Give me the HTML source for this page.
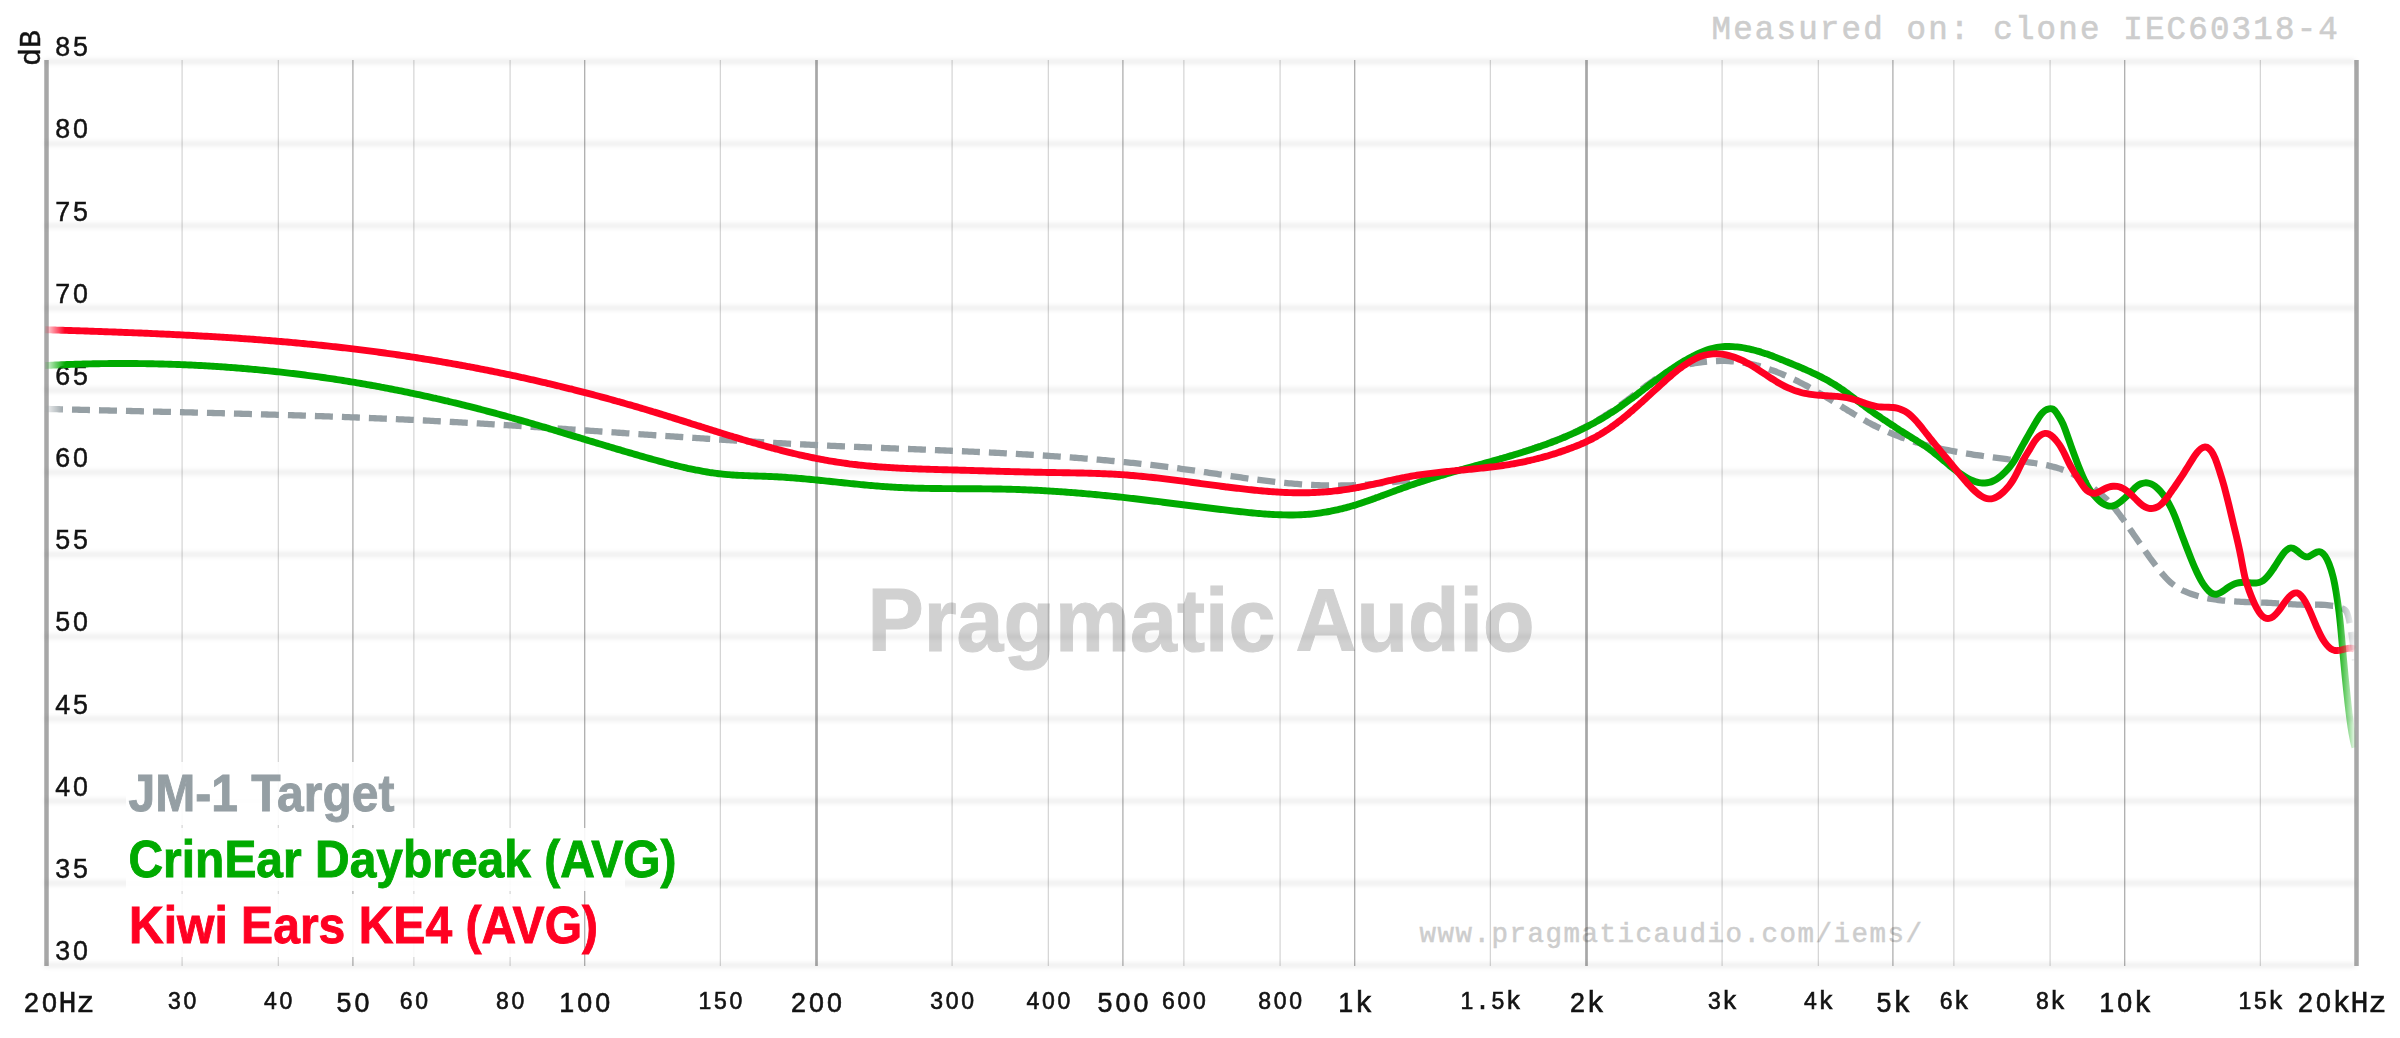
<!DOCTYPE html><html><head><meta charset="utf-8"><title>graph</title><style>html,body{margin:0;padding:0;background:#fff}svg{display:block}text{font-family:"Liberation Mono",monospace}.d{font-family:"Liberation Sans",sans-serif}.s,.s text{font-family:"Liberation Sans",sans-serif;font-weight:bold}</style></head><body>
<svg width="2400" height="1038" viewBox="0 0 2400 1038">
<defs>
<filter id="blur" filterUnits="userSpaceOnUse" x="-12" y="-6" width="2334" height="12"><feGaussianBlur in="SourceGraphic" stdDeviation="2.4"/></filter>
<linearGradient id="fg" gradientUnits="userSpaceOnUse" x1="0" y1="0" x2="2400" y2="0"><stop offset="0.01875" stop-color="#fff" stop-opacity="0.08"/><stop offset="0.02708" stop-color="#fff" stop-opacity="1"/><stop offset="0.97375" stop-color="#fff" stop-opacity="1"/><stop offset="0.98188" stop-color="#fff" stop-opacity="0"/></linearGradient>
<mask id="fade" maskUnits="userSpaceOnUse" x="0" y="0" width="2400" height="1038"><rect x="40" y="40" width="2320" height="960" fill="url(#fg)"/></mask>
</defs>
<rect width="2400" height="1038" fill="#fff"/>
<text class="s" x="1201" y="651" font-size="88.5" text-anchor="middle" fill="#d1d1d1" stroke="#d1d1d1" stroke-width="1" textLength="667" lengthAdjust="spacingAndGlyphs">Pragmatic Audio</text>
<text x="1671.5" y="942" font-size="27.5" letter-spacing="1.5" text-anchor="middle" fill="#cdcdcd" stroke="#cdcdcd" stroke-width="0.5">www.pragmaticaudio.com/iems/</text>
<text x="2340" y="39" font-size="32.5" letter-spacing="2.17" text-anchor="end" fill="#cdcdcd" stroke="#cdcdcd" stroke-width="0.6">Measured on: clone IEC60318-4</text>
<g stroke="#000" stroke-opacity="0.4" stroke-width="0.81" stroke-linecap="round">
<g transform="translate(45,965.28)"><line x1="0" x2="2310" y1="0" y2="0" filter="url(#blur)"/></g>
<g transform="translate(45,883.12)"><line x1="0" x2="2310" y1="0" y2="0" filter="url(#blur)"/></g>
<g transform="translate(45,800.96)"><line x1="0" x2="2310" y1="0" y2="0" filter="url(#blur)"/></g>
<g transform="translate(45,718.80)"><line x1="0" x2="2310" y1="0" y2="0" filter="url(#blur)"/></g>
<g transform="translate(45,636.64)"><line x1="0" x2="2310" y1="0" y2="0" filter="url(#blur)"/></g>
<g transform="translate(45,554.47)"><line x1="0" x2="2310" y1="0" y2="0" filter="url(#blur)"/></g>
<g transform="translate(45,472.31)"><line x1="0" x2="2310" y1="0" y2="0" filter="url(#blur)"/></g>
<g transform="translate(45,390.15)"><line x1="0" x2="2310" y1="0" y2="0" filter="url(#blur)"/></g>
<g transform="translate(45,307.99)"><line x1="0" x2="2310" y1="0" y2="0" filter="url(#blur)"/></g>
<g transform="translate(45,225.82)"><line x1="0" x2="2310" y1="0" y2="0" filter="url(#blur)"/></g>
<g transform="translate(45,143.66)"><line x1="0" x2="2310" y1="0" y2="0" filter="url(#blur)"/></g>
<g transform="translate(45,61.50)"><line x1="0" x2="2310" y1="0" y2="0" filter="url(#blur)"/></g>
</g>
<g font-size="30" fill="#111" stroke="#111" stroke-width="0.45" opacity="0.99">
<text y="960.0" text-anchor="middle"><tspan class="d" font-size="26.8" x="62.8">3</tspan><tspan class="d" font-size="26.8" x="80.4">0</tspan></text>
<text y="877.8" text-anchor="middle"><tspan class="d" font-size="26.8" x="62.8">3</tspan><tspan class="d" font-size="26.8" x="80.4">5</tspan></text>
<text y="795.7" text-anchor="middle"><tspan class="d" font-size="26.8" x="62.8">4</tspan><tspan class="d" font-size="26.8" x="80.4">0</tspan></text>
<text y="713.5" text-anchor="middle"><tspan class="d" font-size="26.8" x="62.8">4</tspan><tspan class="d" font-size="26.8" x="80.4">5</tspan></text>
<text y="631.3" text-anchor="middle"><tspan class="d" font-size="26.8" x="62.8">5</tspan><tspan class="d" font-size="26.8" x="80.4">0</tspan></text>
<text y="549.2" text-anchor="middle"><tspan class="d" font-size="26.8" x="62.8">5</tspan><tspan class="d" font-size="26.8" x="80.4">5</tspan></text>
<text y="467.0" text-anchor="middle"><tspan class="d" font-size="26.8" x="62.8">6</tspan><tspan class="d" font-size="26.8" x="80.4">0</tspan></text>
<text y="384.8" text-anchor="middle"><tspan class="d" font-size="26.8" x="62.8">6</tspan><tspan class="d" font-size="26.8" x="80.4">5</tspan></text>
<text y="302.7" text-anchor="middle"><tspan class="d" font-size="26.8" x="62.8">7</tspan><tspan class="d" font-size="26.8" x="80.4">0</tspan></text>
<text y="220.5" text-anchor="middle"><tspan class="d" font-size="26.8" x="62.8">7</tspan><tspan class="d" font-size="26.8" x="80.4">5</tspan></text>
<text y="138.4" text-anchor="middle"><tspan class="d" font-size="26.8" x="62.8">8</tspan><tspan class="d" font-size="26.8" x="80.4">0</tspan></text>
<text y="56.2" text-anchor="middle"><tspan class="d" font-size="26.8" x="62.8">8</tspan><tspan class="d" font-size="26.8" x="80.4">5</tspan></text>
<text transform="translate(40,30) rotate(-90)" text-anchor="end">dB</text>
</g>
<g stroke="#333" stroke-opacity="0.43">
<line x1="46.50" x2="46.50" y1="60" y2="966" stroke-width="4.5"/>
<line x1="182.09" x2="182.09" y1="60" y2="966" stroke-width="0.6"/>
<line x1="278.29" x2="278.29" y1="60" y2="966" stroke-width="0.6"/>
<line x1="352.91" x2="352.91" y1="60" y2="966" stroke-width="1.2"/>
<line x1="413.88" x2="413.88" y1="60" y2="966" stroke-width="0.6"/>
<line x1="510.09" x2="510.09" y1="60" y2="966" stroke-width="0.6"/>
<line x1="584.71" x2="584.71" y1="60" y2="966" stroke-width="1.2"/>
<line x1="720.30" x2="720.30" y1="60" y2="966" stroke-width="0.6"/>
<line x1="816.50" x2="816.50" y1="60" y2="966" stroke-width="2.7"/>
<line x1="952.09" x2="952.09" y1="60" y2="966" stroke-width="0.6"/>
<line x1="1048.29" x2="1048.29" y1="60" y2="966" stroke-width="0.6"/>
<line x1="1122.91" x2="1122.91" y1="60" y2="966" stroke-width="1.2"/>
<line x1="1183.88" x2="1183.88" y1="60" y2="966" stroke-width="0.6"/>
<line x1="1280.09" x2="1280.09" y1="60" y2="966" stroke-width="0.6"/>
<line x1="1354.71" x2="1354.71" y1="60" y2="966" stroke-width="1.2"/>
<line x1="1490.30" x2="1490.30" y1="60" y2="966" stroke-width="0.6"/>
<line x1="1586.50" x2="1586.50" y1="60" y2="966" stroke-width="2.7"/>
<line x1="1722.09" x2="1722.09" y1="60" y2="966" stroke-width="0.6"/>
<line x1="1818.29" x2="1818.29" y1="60" y2="966" stroke-width="0.6"/>
<line x1="1892.91" x2="1892.91" y1="60" y2="966" stroke-width="1.2"/>
<line x1="1953.88" x2="1953.88" y1="60" y2="966" stroke-width="0.6"/>
<line x1="2050.09" x2="2050.09" y1="60" y2="966" stroke-width="0.6"/>
<line x1="2124.71" x2="2124.71" y1="60" y2="966" stroke-width="1.2"/>
<line x1="2260.30" x2="2260.30" y1="60" y2="966" stroke-width="0.6"/>
<line x1="2356.50" x2="2356.50" y1="60" y2="966" stroke-width="4.5"/>
</g>
<g fill="#111" stroke="#111" stroke-width="0.6" text-anchor="middle" opacity="0.99">
<text y="1011.7" text-anchor="middle"><tspan class="d" font-size="26.8" x="31.5">2</tspan><tspan class="d" font-size="26.8" x="49.5">0</tspan><tspan font-size="30.0" x="67.5">H</tspan><tspan font-size="30.0" x="85.5">z</tspan></text>
<text y="1008.7" text-anchor="middle"><tspan class="d" font-size="23.0" x="174.3">3</tspan><tspan class="d" font-size="23.0" x="189.8">0</tspan></text>
<text y="1008.7" text-anchor="middle"><tspan class="d" font-size="23.0" x="270.5">4</tspan><tspan class="d" font-size="23.0" x="286.0">0</tspan></text>
<text y="1011.7" text-anchor="middle"><tspan class="d" font-size="26.8" x="343.9">5</tspan><tspan class="d" font-size="26.8" x="361.9">0</tspan></text>
<text y="1008.7" text-anchor="middle"><tspan class="d" font-size="23.0" x="406.1">6</tspan><tspan class="d" font-size="23.0" x="421.6">0</tspan></text>
<text y="1008.7" text-anchor="middle"><tspan class="d" font-size="23.0" x="502.3">8</tspan><tspan class="d" font-size="23.0" x="517.8">0</tspan></text>
<text y="1011.7" text-anchor="middle"><tspan class="d" font-size="26.8" x="566.7">1</tspan><tspan class="d" font-size="26.8" x="584.7">0</tspan><tspan class="d" font-size="26.8" x="602.7">0</tspan></text>
<text y="1008.7" text-anchor="middle"><tspan class="d" font-size="23.0" x="704.8">1</tspan><tspan class="d" font-size="23.0" x="720.3">5</tspan><tspan class="d" font-size="23.0" x="735.8">0</tspan></text>
<text y="1011.7" text-anchor="middle"><tspan class="d" font-size="26.8" x="798.5">2</tspan><tspan class="d" font-size="26.8" x="816.5">0</tspan><tspan class="d" font-size="26.8" x="834.5">0</tspan></text>
<text y="1008.7" text-anchor="middle"><tspan class="d" font-size="23.0" x="936.6">3</tspan><tspan class="d" font-size="23.0" x="952.1">0</tspan><tspan class="d" font-size="23.0" x="967.6">0</tspan></text>
<text y="1008.7" text-anchor="middle"><tspan class="d" font-size="23.0" x="1032.8">4</tspan><tspan class="d" font-size="23.0" x="1048.3">0</tspan><tspan class="d" font-size="23.0" x="1063.8">0</tspan></text>
<text y="1011.7" text-anchor="middle"><tspan class="d" font-size="26.8" x="1104.9">5</tspan><tspan class="d" font-size="26.8" x="1122.9">0</tspan><tspan class="d" font-size="26.8" x="1140.9">0</tspan></text>
<text y="1008.7" text-anchor="middle"><tspan class="d" font-size="23.0" x="1168.4">6</tspan><tspan class="d" font-size="23.0" x="1183.9">0</tspan><tspan class="d" font-size="23.0" x="1199.4">0</tspan></text>
<text y="1008.7" text-anchor="middle"><tspan class="d" font-size="23.0" x="1264.6">8</tspan><tspan class="d" font-size="23.0" x="1280.1">0</tspan><tspan class="d" font-size="23.0" x="1295.6">0</tspan></text>
<text y="1011.7" text-anchor="middle"><tspan class="d" font-size="26.8" x="1345.7">1</tspan><tspan font-size="30.0" x="1363.7">k</tspan></text>
<text y="1008.7" text-anchor="middle"><tspan class="d" font-size="23.0" x="1467.0">1</tspan><tspan font-size="25.8" x="1482.5">.</tspan><tspan class="d" font-size="23.0" x="1498.0">5</tspan><tspan font-size="25.8" x="1513.5">k</tspan></text>
<text y="1011.7" text-anchor="middle"><tspan class="d" font-size="26.8" x="1577.5">2</tspan><tspan font-size="30.0" x="1595.5">k</tspan></text>
<text y="1008.7" text-anchor="middle"><tspan class="d" font-size="23.0" x="1714.3">3</tspan><tspan font-size="25.8" x="1729.8">k</tspan></text>
<text y="1008.7" text-anchor="middle"><tspan class="d" font-size="23.0" x="1810.5">4</tspan><tspan font-size="25.8" x="1826.0">k</tspan></text>
<text y="1011.7" text-anchor="middle"><tspan class="d" font-size="26.8" x="1883.9">5</tspan><tspan font-size="30.0" x="1901.9">k</tspan></text>
<text y="1008.7" text-anchor="middle"><tspan class="d" font-size="23.0" x="1946.1">6</tspan><tspan font-size="25.8" x="1961.6">k</tspan></text>
<text y="1008.7" text-anchor="middle"><tspan class="d" font-size="23.0" x="2042.3">8</tspan><tspan font-size="25.8" x="2057.8">k</tspan></text>
<text y="1011.7" text-anchor="middle"><tspan class="d" font-size="26.8" x="2106.7">1</tspan><tspan class="d" font-size="26.8" x="2124.7">0</tspan><tspan font-size="30.0" x="2142.7">k</tspan></text>
<text y="1008.7" text-anchor="middle"><tspan class="d" font-size="23.0" x="2244.8">1</tspan><tspan class="d" font-size="23.0" x="2260.3">5</tspan><tspan font-size="25.8" x="2275.8">k</tspan></text>
<text y="1011.7" text-anchor="middle"><tspan class="d" font-size="26.8" x="2305.5">2</tspan><tspan class="d" font-size="26.8" x="2323.5">0</tspan><tspan font-size="30.0" x="2341.5">k</tspan><tspan font-size="30.0" x="2359.5">H</tspan><tspan font-size="30.0" x="2377.5">z</tspan></text>
</g>
<g fill="none" stroke-width="6.9" stroke-linejoin="round">
<path d="M45.0,408.9C46.3,408.94 47.7,408.98 49.0,409.01C50.3,409.05 51.7,409.08 53.0,409.11C54.3,409.15 55.7,409.18 57.0,409.22C58.3,409.25 59.7,409.28 61.0,409.32C62.3,409.35 63.7,409.39 65.0,409.42C66.3,409.45 67.7,409.49 69.0,409.52C70.3,409.55 71.7,409.59 73.0,409.62C74.3,409.65 75.7,409.69 77.0,409.72C78.3,409.75 79.7,409.78 81.0,409.82C82.3,409.85 83.7,409.88 85.0,409.91C86.3,409.95 87.7,409.98 89.0,410.01C90.3,410.04 91.7,410.08 93.0,410.11C94.3,410.14 95.7,410.17 97.0,410.21C98.3,410.24 99.7,410.27 101.0,410.30C102.3,410.33 103.7,410.37 105.0,410.40C106.3,410.43 107.7,410.46 109.0,410.49C110.3,410.53 111.7,410.56 113.0,410.59C114.3,410.62 115.7,410.65 117.0,410.68C118.3,410.72 119.7,410.75 121.0,410.78C122.3,410.81 123.7,410.84 125.0,410.87C126.3,410.91 127.7,410.94 129.0,410.97C130.3,411.00 131.7,411.03 133.0,411.06C134.3,411.10 135.7,411.13 137.0,411.16C138.3,411.19 139.7,411.22 141.0,411.25C142.3,411.29 143.7,411.32 145.0,411.35C146.3,411.38 147.7,411.41 149.0,411.44C150.3,411.48 151.7,411.51 153.0,411.54C154.3,411.57 155.7,411.60 157.0,411.63C158.3,411.67 159.7,411.70 161.0,411.73C162.3,411.76 163.7,411.79 165.0,411.83C166.3,411.86 167.7,411.89 169.0,411.92C170.3,411.95 171.7,411.99 173.0,412.02C174.3,412.05 175.7,412.08 177.0,412.11C178.3,412.15 179.7,412.18 181.0,412.21C182.3,412.24 183.7,412.28 185.0,412.31C186.3,412.34 187.7,412.38 189.0,412.41C190.3,412.44 191.7,412.47 193.0,412.51C194.3,412.54 195.7,412.57 197.0,412.61C198.3,412.64 199.7,412.67 201.0,412.71C202.3,412.74 203.7,412.77 205.0,412.81C206.3,412.84 207.7,412.87 209.0,412.91C210.3,412.94 211.7,412.98 213.0,413.01C214.3,413.04 215.7,413.08 217.0,413.11C218.3,413.15 219.7,413.18 221.0,413.22C222.3,413.25 223.7,413.29 225.0,413.32C226.3,413.36 227.7,413.39 229.0,413.43C230.3,413.46 231.7,413.50 233.0,413.53C234.3,413.57 235.7,413.60 237.0,413.64C238.3,413.68 239.7,413.71 241.0,413.75C242.3,413.78 243.7,413.82 245.0,413.86C246.3,413.89 247.7,413.93 249.0,413.97C250.3,414.01 251.7,414.04 253.0,414.08C254.3,414.12 255.7,414.16 257.0,414.19C258.3,414.23 259.7,414.27 261.0,414.31C262.3,414.35 263.7,414.38 265.0,414.42C266.3,414.46 267.7,414.50 269.0,414.54C270.3,414.58 271.7,414.62 273.0,414.66C274.3,414.70 275.7,414.74 277.0,414.78C278.3,414.82 279.7,414.86 281.0,414.90C282.3,414.94 283.7,414.98 285.0,415.02C286.3,415.06 287.7,415.10 289.0,415.14C290.3,415.18 291.7,415.23 293.0,415.27C294.3,415.31 295.7,415.35 297.0,415.39C298.3,415.44 299.7,415.48 301.0,415.52C302.3,415.57 303.7,415.61 305.0,415.65C306.3,415.70 307.7,415.74 309.0,415.79C310.3,415.83 311.7,415.87 313.0,415.92C314.3,415.96 315.7,416.01 317.0,416.05C318.3,416.10 319.7,416.14 321.0,416.19C322.3,416.24 323.7,416.28 325.0,416.33C326.3,416.38 327.7,416.42 329.0,416.47C330.3,416.52 331.7,416.57 333.0,416.61C334.3,416.66 335.7,416.71 337.0,416.76C338.3,416.81 339.7,416.86 341.0,416.90C342.3,416.95 343.7,417.00 345.0,417.05C346.3,417.10 347.7,417.15 349.0,417.20C350.3,417.26 351.7,417.31 353.0,417.36C354.3,417.41 355.7,417.46 357.0,417.51C358.3,417.56 359.7,417.62 361.0,417.67C362.3,417.72 363.7,417.78 365.0,417.83C366.3,417.88 367.7,417.94 369.0,417.99C370.3,418.05 371.7,418.10 373.0,418.16C374.3,418.21 375.7,418.27 377.0,418.32C378.3,418.38 379.7,418.43 381.0,418.49C382.3,418.55 383.7,418.61 385.0,418.66C386.3,418.72 387.7,418.78 389.0,418.84C390.3,418.90 391.7,418.95 393.0,419.01C394.3,419.07 395.7,419.13 397.0,419.19C398.3,419.25 399.7,419.31 401.0,419.37C402.3,419.44 403.7,419.50 405.0,419.56C406.3,419.62 407.7,419.68 409.0,419.75C410.3,419.81 411.7,419.87 413.0,419.94C414.3,420.00 415.7,420.06 417.0,420.13C418.3,420.19 419.7,420.26 421.0,420.32C422.3,420.39 423.7,420.45 425.0,420.52C426.3,420.59 427.7,420.65 429.0,420.72C430.3,420.79 431.7,420.86 433.0,420.93C434.3,420.99 435.7,421.06 437.0,421.13C438.3,421.20 439.7,421.27 441.0,421.34C442.3,421.41 443.7,421.48 445.0,421.56C446.3,421.63 447.7,421.70 449.0,421.77C450.3,421.84 451.7,421.92 453.0,421.99C454.3,422.06 455.7,422.14 457.0,422.21C458.3,422.29 459.7,422.36 461.0,422.44C462.3,422.51 463.7,422.59 465.0,422.66C466.3,422.74 467.7,422.82 469.0,422.89C470.3,422.97 471.7,423.05 473.0,423.13C474.3,423.20 475.7,423.28 477.0,423.36C478.3,423.44 479.7,423.52 481.0,423.60C482.3,423.68 483.7,423.76 485.0,423.84C486.3,423.92 487.7,424.00 489.0,424.08C490.3,424.16 491.7,424.24 493.0,424.32C494.3,424.40 495.7,424.48 497.0,424.57C498.3,424.65 499.7,424.73 501.0,424.82C502.3,424.90 503.7,424.98 505.0,425.07C506.3,425.15 507.7,425.23 509.0,425.32C510.3,425.40 511.7,425.49 513.0,425.57C514.3,425.66 515.7,425.74 517.0,425.83C518.3,425.91 519.7,426.00 521.0,426.08C522.3,426.17 523.7,426.26 525.0,426.34C526.3,426.43 527.7,426.52 529.0,426.60C530.3,426.69 531.7,426.78 533.0,426.87C534.3,426.95 535.7,427.04 537.0,427.13C538.3,427.22 539.7,427.31 541.0,427.39C542.3,427.48 543.7,427.57 545.0,427.66C546.3,427.75 547.7,427.84 549.0,427.93C550.3,428.02 551.7,428.11 553.0,428.20C554.3,428.29 555.7,428.38 557.0,428.47C558.3,428.56 559.7,428.65 561.0,428.74C562.3,428.83 563.7,428.92 565.0,429.01C566.3,429.10 567.7,429.19 569.0,429.28C570.3,429.37 571.7,429.46 573.0,429.55C574.3,429.65 575.7,429.74 577.0,429.83C578.3,429.92 579.7,430.01 581.0,430.10C582.3,430.20 583.7,430.29 585.0,430.38C586.3,430.47 587.7,430.56 589.0,430.66C590.3,430.75 591.7,430.84 593.0,430.93C594.3,431.02 595.7,431.12 597.0,431.21C598.3,431.30 599.7,431.39 601.0,431.49C602.3,431.58 603.7,431.67 605.0,431.76C606.3,431.86 607.7,431.95 609.0,432.04C610.3,432.13 611.7,432.23 613.0,432.32C614.3,432.41 615.7,432.51 617.0,432.60C618.3,432.69 619.7,432.78 621.0,432.88C622.3,432.97 623.7,433.06 625.0,433.15C626.3,433.25 627.7,433.34 629.0,433.43C630.3,433.53 631.7,433.62 633.0,433.71C634.3,433.80 635.7,433.90 637.0,433.99C638.3,434.08 639.7,434.17 641.0,434.27C642.3,434.36 643.7,434.45 645.0,434.54C646.3,434.63 647.7,434.73 649.0,434.82C650.3,434.91 651.7,435.00 653.0,435.10C654.3,435.19 655.7,435.28 657.0,435.37C658.3,435.46 659.7,435.55 661.0,435.65C662.3,435.74 663.7,435.83 665.0,435.92C666.3,436.01 667.7,436.10 669.0,436.19C670.3,436.28 671.7,436.37 673.0,436.46C674.3,436.56 675.7,436.65 677.0,436.74C678.3,436.83 679.7,436.92 681.0,437.01C682.3,437.10 683.7,437.19 685.0,437.28C686.3,437.37 687.7,437.45 689.0,437.54C690.3,437.63 691.7,437.72 693.0,437.81C694.3,437.90 695.7,437.99 697.0,438.08C698.3,438.16 699.7,438.25 701.0,438.34C702.3,438.43 703.7,438.52 705.0,438.60C706.3,438.69 707.7,438.78 709.0,438.87C710.3,438.95 711.7,439.04 713.0,439.13C714.3,439.21 715.7,439.30 717.0,439.38C718.3,439.47 719.7,439.55 721.0,439.64C722.3,439.73 723.7,439.81 725.0,439.90C726.3,439.98 727.7,440.06 729.0,440.15C730.3,440.23 731.7,440.32 733.0,440.40C734.3,440.48 735.7,440.57 737.0,440.65C738.3,440.73 739.7,440.81 741.0,440.90C742.3,440.98 743.7,441.06 745.0,441.14C746.3,441.22 747.7,441.30 749.0,441.38C750.3,441.46 751.7,441.54 753.0,441.62C754.3,441.70 755.7,441.78 757.0,441.86C758.3,441.94 759.7,442.02 761.0,442.10C762.3,442.18 763.7,442.26 765.0,442.33C766.3,442.41 767.7,442.49 769.0,442.56C770.3,442.64 771.7,442.72 773.0,442.79C774.3,442.87 775.7,442.94 777.0,443.02C778.3,443.09 779.7,443.17 781.0,443.24C782.3,443.32 783.7,443.39 785.0,443.46C786.3,443.54 787.7,443.61 789.0,443.68C790.3,443.75 791.7,443.82 793.0,443.89C794.3,443.97 795.7,444.04 797.0,444.11C798.3,444.18 799.7,444.25 801.0,444.32C802.3,444.38 803.7,444.45 805.0,444.52C806.3,444.59 807.7,444.66 809.0,444.72C810.3,444.79 811.7,444.86 813.0,444.92C814.3,444.99 815.7,445.05 817.0,445.12C818.3,445.18 819.7,445.25 821.0,445.31C822.3,445.37 823.7,445.44 825.0,445.50C826.3,445.56 827.7,445.63 829.0,445.69C830.3,445.75 831.7,445.81 833.0,445.87C834.3,445.93 835.7,445.99 837.0,446.05C838.3,446.11 839.7,446.17 841.0,446.23C842.3,446.29 843.7,446.35 845.0,446.41C846.3,446.46 847.7,446.52 849.0,446.58C850.3,446.64 851.7,446.69 853.0,446.75C854.3,446.81 855.7,446.86 857.0,446.92C858.3,446.98 859.7,447.03 861.0,447.09C862.3,447.14 863.7,447.20 865.0,447.25C866.3,447.31 867.7,447.36 869.0,447.42C870.3,447.47 871.7,447.53 873.0,447.58C874.3,447.64 875.7,447.69 877.0,447.74C878.3,447.80 879.7,447.85 881.0,447.91C882.3,447.96 883.7,448.01 885.0,448.07C886.3,448.12 887.7,448.17 889.0,448.23C890.3,448.28 891.7,448.33 893.0,448.39C894.3,448.44 895.7,448.49 897.0,448.54C898.3,448.60 899.7,448.65 901.0,448.70C902.3,448.76 903.7,448.81 905.0,448.86C906.3,448.92 907.7,448.97 909.0,449.02C910.3,449.07 911.7,449.13 913.0,449.18C914.3,449.23 915.7,449.29 917.0,449.34C918.3,449.39 919.7,449.45 921.0,449.50C922.3,449.55 923.7,449.61 925.0,449.66C926.3,449.72 927.7,449.77 929.0,449.82C930.3,449.88 931.7,449.93 933.0,449.99C934.3,450.04 935.7,450.10 937.0,450.15C938.3,450.21 939.7,450.26 941.0,450.32C942.3,450.37 943.7,450.43 945.0,450.48C946.3,450.54 947.7,450.60 949.0,450.65C950.3,450.71 951.7,450.77 953.0,450.82C954.3,450.88 955.7,450.94 957.0,451.00C958.3,451.05 959.7,451.11 961.0,451.17C962.3,451.23 963.7,451.29 965.0,451.35C966.3,451.41 967.7,451.47 969.0,451.53C970.3,451.59 971.7,451.65 973.0,451.71C974.3,451.77 975.7,451.83 977.0,451.90C978.3,451.96 979.7,452.02 981.0,452.08C982.3,452.15 983.7,452.21 985.0,452.27C986.3,452.34 987.7,452.40 989.0,452.47C990.3,452.53 991.7,452.60 993.0,452.67C994.3,452.73 995.7,452.80 997.0,452.87C998.3,452.94 999.7,453.01 1001.0,453.07C1002.3,453.14 1003.7,453.21 1005.0,453.28C1006.3,453.35 1007.7,453.43 1009.0,453.50C1010.3,453.57 1011.7,453.64 1013.0,453.71C1014.3,453.79 1015.7,453.86 1017.0,453.94C1018.3,454.01 1019.7,454.09 1021.0,454.16C1022.3,454.24 1023.7,454.32 1025.0,454.39C1026.3,454.47 1027.7,454.55 1029.0,454.63C1030.3,454.71 1031.7,454.79 1033.0,454.87C1034.3,454.95 1035.7,455.03 1037.0,455.12C1038.3,455.20 1039.7,455.28 1041.0,455.37C1042.3,455.45 1043.7,455.54 1045.0,455.63C1046.3,455.71 1047.7,455.80 1049.0,455.89C1050.3,455.98 1051.7,456.07 1053.0,456.16C1054.3,456.25 1055.7,456.34 1057.0,456.43C1058.3,456.52 1059.7,456.62 1061.0,456.71C1062.3,456.81 1063.7,456.90 1065.0,457.00C1066.3,457.10 1067.7,457.19 1069.0,457.29C1070.3,457.39 1071.7,457.49 1073.0,457.59C1074.3,457.69 1075.7,457.80 1077.0,457.90C1078.3,458.00 1079.7,458.11 1081.0,458.21C1082.3,458.32 1083.7,458.43 1085.0,458.53C1086.3,458.64 1087.7,458.75 1089.0,458.86C1090.3,458.97 1091.7,459.08 1093.0,459.20C1094.3,459.31 1095.7,459.42 1097.0,459.54C1098.3,459.65 1099.7,459.77 1101.0,459.89C1102.3,460.01 1103.7,460.13 1105.0,460.25C1106.3,460.37 1107.7,460.49 1109.0,460.61C1110.3,460.74 1111.7,460.86 1113.0,460.99C1114.3,461.11 1115.7,461.24 1117.0,461.37C1118.3,461.50 1119.7,461.63 1121.0,461.76C1122.3,461.89 1123.7,462.03 1125.0,462.16C1126.3,462.30 1127.7,462.43 1129.0,462.57C1130.3,462.71 1131.7,462.85 1133.0,462.99C1134.3,463.13 1135.7,463.27 1137.0,463.42C1138.3,463.56 1139.7,463.71 1141.0,463.85C1142.3,464.00 1143.7,464.15 1145.0,464.30C1146.3,464.45 1147.7,464.60 1149.0,464.75C1150.3,464.91 1151.7,465.06 1153.0,465.22C1154.3,465.37 1155.7,465.53 1157.0,465.69C1158.3,465.85 1159.7,466.01 1161.0,466.18C1162.3,466.34 1163.7,466.51 1165.0,466.67C1166.3,466.84 1167.7,467.01 1169.0,467.18C1170.3,467.35 1171.7,467.52 1173.0,467.69C1174.3,467.87 1175.7,468.04 1177.0,468.22C1178.3,468.40 1179.7,468.58 1181.0,468.76C1182.3,468.94 1183.7,469.12 1185.0,469.31C1186.3,469.49 1187.7,469.68 1189.0,469.86C1190.3,470.05 1191.7,470.24 1193.0,470.43C1194.3,470.62 1195.7,470.82 1197.0,471.01C1198.3,471.20 1199.7,471.40 1201.0,471.59C1202.3,471.79 1203.7,471.98 1205.0,472.18C1206.3,472.38 1207.7,472.57 1209.0,472.77C1210.3,472.97 1211.7,473.17 1213.0,473.37C1214.3,473.56 1215.7,473.76 1217.0,473.96C1218.3,474.16 1219.7,474.36 1221.0,474.56C1222.3,474.75 1223.7,474.95 1225.0,475.15C1226.3,475.35 1227.7,475.54 1229.0,475.74C1230.3,475.94 1231.7,476.13 1233.0,476.33C1234.3,476.52 1235.7,476.71 1237.0,476.91C1238.3,477.10 1239.7,477.29 1241.0,477.48C1242.3,477.67 1243.7,477.86 1245.0,478.04C1246.3,478.23 1247.7,478.41 1249.0,478.60C1250.3,478.78 1251.7,478.96 1253.0,479.14C1254.3,479.32 1255.7,479.50 1257.0,479.67C1258.3,479.84 1259.7,480.02 1261.0,480.19C1262.3,480.36 1263.7,480.52 1265.0,480.69C1266.3,480.85 1267.7,481.01 1269.0,481.17C1270.3,481.33 1271.7,481.49 1273.0,481.64C1274.3,481.79 1275.7,481.94 1277.0,482.08C1278.3,482.23 1279.7,482.37 1281.0,482.51C1282.3,482.65 1283.7,482.78 1285.0,482.91C1286.3,483.04 1287.7,483.17 1289.0,483.29C1290.3,483.41 1291.7,483.53 1293.0,483.65C1294.3,483.76 1295.7,483.87 1297.0,483.97C1298.3,484.08 1299.7,484.18 1301.0,484.27C1302.3,484.37 1303.7,484.46 1305.0,484.55C1306.3,484.63 1307.7,484.71 1309.0,484.79C1310.3,484.86 1311.7,484.93 1313.0,485.00C1314.3,485.06 1315.7,485.12 1317.0,485.17C1318.3,485.22 1319.7,485.27 1321.0,485.31C1322.3,485.35 1323.7,485.39 1325.0,485.42C1326.3,485.45 1327.7,485.48 1329.0,485.49C1330.3,485.51 1331.7,485.53 1333.0,485.53C1334.3,485.54 1335.7,485.54 1337.0,485.54C1338.3,485.54 1339.7,485.53 1341.0,485.51C1342.3,485.50 1343.7,485.48 1345.0,485.45C1346.3,485.43 1347.7,485.40 1349.0,485.36C1350.3,485.32 1351.7,485.28 1353.0,485.23C1354.3,485.18 1355.7,485.13 1357.0,485.07C1358.3,485.01 1359.7,484.94 1361.0,484.87C1362.3,484.80 1363.7,484.73 1365.0,484.65C1366.3,484.56 1367.7,484.48 1369.0,484.39C1370.3,484.29 1371.7,484.19 1373.0,484.09C1374.3,483.99 1375.7,483.88 1377.0,483.76C1378.3,483.65 1379.7,483.53 1381.0,483.40C1382.3,483.28 1383.7,483.15 1385.0,483.01C1386.3,482.87 1387.7,482.73 1389.0,482.58C1390.3,482.43 1391.7,482.28 1393.0,482.12C1394.3,481.96 1395.7,481.80 1397.0,481.63C1398.3,481.46 1399.7,481.28 1401.0,481.10C1402.3,480.92 1403.7,480.74 1405.0,480.54C1406.3,480.35 1407.7,480.16 1409.0,479.95C1410.3,479.75 1411.7,479.54 1413.0,479.33C1414.3,479.12 1415.7,478.90 1417.0,478.68C1418.3,478.45 1419.7,478.22 1421.0,477.99C1422.3,477.76 1423.7,477.52 1425.0,477.27C1426.3,477.03 1427.7,476.78 1429.0,476.53C1430.3,476.27 1431.7,476.01 1433.0,475.75C1434.3,475.49 1435.7,475.22 1437.0,474.94C1438.3,474.67 1439.7,474.39 1441.0,474.11C1442.3,473.83 1443.7,473.54 1445.0,473.25C1446.3,472.96 1447.7,472.66 1449.0,472.36C1450.3,472.06 1451.7,471.75 1453.0,471.45C1454.3,471.14 1455.7,470.82 1457.0,470.50C1458.3,470.19 1459.7,469.86 1461.0,469.54C1462.3,469.21 1463.7,468.88 1465.0,468.55C1466.3,468.21 1467.7,467.87 1469.0,467.53C1470.3,467.19 1471.7,466.84 1473.0,466.49C1474.3,466.14 1475.7,465.79 1477.0,465.43C1478.3,465.07 1479.7,464.71 1481.0,464.34C1482.3,463.98 1483.7,463.61 1485.0,463.24C1486.3,462.86 1487.7,462.49 1489.0,462.11C1490.3,461.73 1491.7,461.34 1493.0,460.96C1494.3,460.57 1495.7,460.18 1497.0,459.79C1498.3,459.39 1499.7,459.00 1501.0,458.60C1502.3,458.20 1503.7,457.80 1505.0,457.39C1506.3,456.98 1507.7,456.57 1509.0,456.16C1510.3,455.75 1511.7,455.33 1513.0,454.92C1514.3,454.50 1515.7,454.08 1517.0,453.65C1518.3,453.23 1519.7,452.80 1521.0,452.37C1522.3,451.94 1523.7,451.51 1525.0,451.08C1526.3,450.64 1527.7,450.20 1529.0,449.76C1530.3,449.32 1531.7,448.88 1533.0,448.43C1534.3,447.98 1535.7,447.52 1537.0,447.06C1538.3,446.60 1539.7,446.14 1541.0,445.67C1542.3,445.20 1543.7,444.72 1545.0,444.24C1546.3,443.76 1547.7,443.27 1549.0,442.77C1550.3,442.28 1551.7,441.77 1553.0,441.26C1554.3,440.75 1555.7,440.23 1557.0,439.70C1558.3,439.18 1559.7,438.64 1561.0,438.09C1562.3,437.55 1563.7,436.99 1565.0,436.42C1566.3,435.86 1567.7,435.28 1569.0,434.70C1570.3,434.11 1571.7,433.51 1573.0,432.90C1574.3,432.29 1575.7,431.67 1577.0,431.04C1578.3,430.41 1579.7,429.76 1581.0,429.11C1582.3,428.45 1583.7,427.78 1585.0,427.09C1586.3,426.41 1587.7,425.71 1589.0,425.00C1590.3,424.28 1591.7,423.56 1593.0,422.81C1594.3,422.07 1595.7,421.31 1597.0,420.54C1598.3,419.77 1599.7,418.98 1601.0,418.17C1602.3,417.37 1603.7,416.55 1605.0,415.71C1606.3,414.87 1607.7,414.01 1609.0,413.14C1610.3,412.26 1611.7,411.37 1613.0,410.46C1614.3,409.55 1615.7,408.62 1617.0,407.67C1618.3,406.72 1619.7,405.75 1621.0,404.78C1622.3,403.80 1623.7,402.81 1625.0,401.81C1626.3,400.81 1627.7,399.80 1629.0,398.79C1630.3,397.77 1631.7,396.75 1633.0,395.74C1634.3,394.72 1635.7,393.70 1637.0,392.69C1638.3,391.68 1639.7,390.67 1641.0,389.66C1642.3,388.66 1643.7,387.67 1645.0,386.69C1646.3,385.71 1647.7,384.74 1649.0,383.79C1650.3,382.84 1651.7,381.91 1653.0,380.99C1654.3,380.08 1655.7,379.19 1657.0,378.32C1658.3,377.46 1659.7,376.62 1661.0,375.80C1662.3,374.99 1663.7,374.21 1665.0,373.46C1666.3,372.72 1667.7,372.00 1669.0,371.32C1670.3,370.65 1671.7,370.01 1673.0,369.42C1674.3,368.82 1675.7,368.27 1677.0,367.76C1678.3,367.25 1679.7,366.79 1681.0,366.38C1682.3,365.96 1683.7,365.59 1685.0,365.25C1686.3,364.91 1687.7,364.60 1689.0,364.33C1690.3,364.05 1691.7,363.80 1693.0,363.58C1694.3,363.35 1695.7,363.14 1697.0,362.95C1698.3,362.76 1699.7,362.58 1701.0,362.42C1702.3,362.25 1703.7,362.09 1705.0,361.94C1706.3,361.79 1707.7,361.66 1709.0,361.54C1710.3,361.42 1711.7,361.31 1713.0,361.22C1714.3,361.13 1715.7,361.05 1717.0,361.00C1718.3,360.94 1719.7,360.90 1721.0,360.88C1722.3,360.86 1723.7,360.87 1725.0,360.89C1726.3,360.92 1727.7,360.96 1729.0,361.03C1730.3,361.10 1731.7,361.19 1733.0,361.31C1734.3,361.42 1735.7,361.55 1737.0,361.71C1738.3,361.86 1739.7,362.04 1741.0,362.24C1742.3,362.43 1743.7,362.65 1745.0,362.89C1746.3,363.12 1747.7,363.38 1749.0,363.66C1750.3,363.93 1751.7,364.23 1753.0,364.54C1754.3,364.85 1755.7,365.18 1757.0,365.53C1758.3,365.88 1759.7,366.25 1761.0,366.64C1762.3,367.02 1763.7,367.43 1765.0,367.85C1766.3,368.27 1767.7,368.71 1769.0,369.16C1770.3,369.61 1771.7,370.08 1773.0,370.57C1774.3,371.06 1775.7,371.56 1777.0,372.08C1778.3,372.59 1779.7,373.13 1781.0,373.67C1782.3,374.22 1783.7,374.78 1785.0,375.36C1786.3,375.94 1787.7,376.53 1789.0,377.13C1790.3,377.74 1791.7,378.36 1793.0,378.99C1794.3,379.62 1795.7,380.26 1797.0,380.92C1798.3,381.58 1799.7,382.25 1801.0,382.93C1802.3,383.61 1803.7,384.31 1805.0,385.01C1806.3,385.72 1807.7,386.43 1809.0,387.16C1810.3,387.89 1811.7,388.63 1813.0,389.38C1814.3,390.13 1815.7,390.89 1817.0,391.65C1818.3,392.42 1819.7,393.20 1821.0,393.99C1822.3,394.78 1823.7,395.58 1825.0,396.38C1826.3,397.18 1827.7,397.99 1829.0,398.80C1830.3,399.62 1831.7,400.44 1833.0,401.26C1834.3,402.08 1835.7,402.91 1837.0,403.73C1838.3,404.56 1839.7,405.38 1841.0,406.21C1842.3,407.03 1843.7,407.86 1845.0,408.68C1846.3,409.50 1847.7,410.32 1849.0,411.13C1850.3,411.95 1851.7,412.76 1853.0,413.56C1854.3,414.36 1855.7,415.16 1857.0,415.95C1858.3,416.73 1859.7,417.51 1861.0,418.28C1862.3,419.05 1863.7,419.81 1865.0,420.56C1866.3,421.30 1867.7,422.04 1869.0,422.76C1870.3,423.48 1871.7,424.18 1873.0,424.87C1874.3,425.56 1875.7,426.24 1877.0,426.89C1878.3,427.55 1879.7,428.20 1881.0,428.83C1882.3,429.45 1883.7,430.07 1885.0,430.67C1886.3,431.27 1887.7,431.85 1889.0,432.42C1890.3,432.99 1891.7,433.55 1893.0,434.09C1894.3,434.64 1895.7,435.17 1897.0,435.68C1898.3,436.20 1899.7,436.71 1901.0,437.20C1902.3,437.69 1903.7,438.17 1905.0,438.64C1906.3,439.10 1907.7,439.56 1909.0,440.00C1910.3,440.45 1911.7,440.88 1913.0,441.30C1914.3,441.72 1915.7,442.13 1917.0,442.53C1918.3,442.93 1919.7,443.32 1921.0,443.70C1922.3,444.08 1923.7,444.45 1925.0,444.81C1926.3,445.17 1927.7,445.52 1929.0,445.87C1930.3,446.21 1931.7,446.54 1933.0,446.87C1934.3,447.19 1935.7,447.51 1937.0,447.81C1938.3,448.12 1939.7,448.42 1941.0,448.71C1942.3,449.01 1943.7,449.29 1945.0,449.57C1946.3,449.85 1947.7,450.12 1949.0,450.38C1950.3,450.64 1951.7,450.90 1953.0,451.15C1954.3,451.41 1955.7,451.65 1957.0,451.89C1958.3,452.13 1959.7,452.36 1961.0,452.59C1962.3,452.82 1963.7,453.05 1965.0,453.27C1966.3,453.49 1967.7,453.70 1969.0,453.91C1970.3,454.12 1971.7,454.33 1973.0,454.53C1974.3,454.74 1975.7,454.94 1977.0,455.13C1978.3,455.33 1979.7,455.52 1981.0,455.71C1982.3,455.90 1983.7,456.09 1985.0,456.28C1986.3,456.46 1987.7,456.65 1989.0,456.83C1990.3,457.01 1991.7,457.19 1993.0,457.37C1994.3,457.55 1995.7,457.73 1997.0,457.91C1998.3,458.09 1999.7,458.26 2001.0,458.44C2002.3,458.62 2003.7,458.79 2005.0,458.97C2006.3,459.15 2007.7,459.32 2009.0,459.50C2010.3,459.68 2011.7,459.86 2013.0,460.04C2014.3,460.22 2015.7,460.40 2017.0,460.58C2018.3,460.77 2019.7,460.95 2021.0,461.14C2022.3,461.33 2023.7,461.52 2025.0,461.71C2026.3,461.90 2027.7,462.10 2029.0,462.29C2030.3,462.49 2031.7,462.69 2033.0,462.90C2034.3,463.10 2035.7,463.31 2037.0,463.53C2038.3,463.75 2039.7,463.97 2041.0,464.21C2042.3,464.44 2043.7,464.69 2045.0,464.95C2046.3,465.22 2047.7,465.49 2049.0,465.79C2050.3,466.09 2051.7,466.41 2053.0,466.75C2054.3,467.09 2055.7,467.45 2057.0,467.84C2058.3,468.23 2059.7,468.64 2061.0,469.09C2062.3,469.54 2063.7,470.02 2065.0,470.53C2066.3,471.04 2067.7,471.59 2069.0,472.18C2070.3,472.76 2071.7,473.39 2073.0,474.06C2074.3,474.72 2075.7,475.43 2077.0,476.19C2078.3,476.94 2079.7,477.75 2081.0,478.60C2082.3,479.45 2083.7,480.35 2085.0,481.31C2086.3,482.27 2087.7,483.28 2089.0,484.35C2090.3,485.41 2091.7,486.53 2093.0,487.66C2094.3,488.79 2095.7,489.93 2097.0,491.06C2098.3,492.18 2099.7,493.27 2101.0,494.38C2102.3,495.50 2103.7,496.63 2105.0,497.83C2106.3,499.04 2107.7,500.33 2109.0,501.73C2110.3,503.14 2111.7,504.66 2113.0,506.26C2114.3,507.85 2115.7,509.53 2117.0,511.26C2118.3,512.99 2119.7,514.78 2121.0,516.59C2122.3,518.40 2123.7,520.24 2125.0,522.11C2126.3,523.97 2127.7,525.86 2129.0,527.76C2130.3,529.66 2131.7,531.58 2133.0,533.50C2134.3,535.42 2135.7,537.36 2137.0,539.29C2138.3,541.22 2139.7,543.15 2141.0,545.07C2142.3,546.99 2143.7,548.91 2145.0,550.81C2146.3,552.71 2147.7,554.59 2149.0,556.46C2150.3,558.32 2151.7,560.16 2153.0,561.96C2154.3,563.77 2155.7,565.54 2157.0,567.26C2158.3,568.97 2159.7,570.64 2161.0,572.24C2162.3,573.84 2163.7,575.37 2165.0,576.82C2166.3,578.27 2167.7,579.64 2169.0,580.91C2170.3,582.17 2171.7,583.34 2173.0,584.40C2174.3,585.46 2175.7,586.41 2177.0,587.26C2178.3,588.12 2179.7,588.88 2181.0,589.58C2182.3,590.28 2183.7,590.91 2185.0,591.49C2186.3,592.07 2187.7,592.61 2189.0,593.11C2190.3,593.61 2191.7,594.09 2193.0,594.53C2194.3,594.97 2195.7,595.38 2197.0,595.76C2198.3,596.15 2199.7,596.50 2201.0,596.84C2202.3,597.17 2203.7,597.47 2205.0,597.76C2206.3,598.04 2207.7,598.31 2209.0,598.55C2210.3,598.79 2211.7,599.02 2213.0,599.22C2214.3,599.43 2215.7,599.62 2217.0,599.80C2218.3,599.97 2219.7,600.13 2221.0,600.28C2222.3,600.43 2223.7,600.57 2225.0,600.70C2226.3,600.83 2227.7,600.94 2229.0,601.05C2230.3,601.16 2231.7,601.25 2233.0,601.34C2234.3,601.43 2235.7,601.52 2237.0,601.59C2238.3,601.67 2239.7,601.74 2241.0,601.80C2242.3,601.86 2243.7,601.92 2245.0,601.98C2246.3,602.03 2247.7,602.08 2249.0,602.13C2250.3,602.18 2251.7,602.23 2253.0,602.27C2254.3,602.32 2255.7,602.36 2257.0,602.41C2258.3,602.45 2259.7,602.50 2261.0,602.54C2262.3,602.59 2263.7,602.64 2265.0,602.69C2266.3,602.74 2267.7,602.80 2269.0,602.86C2270.3,602.92 2271.7,602.98 2273.0,603.05C2274.3,603.12 2275.7,603.20 2277.0,603.28C2278.3,603.36 2279.7,603.45 2281.0,603.54C2282.3,603.64 2283.7,603.73 2285.0,603.82C2286.3,603.92 2287.7,604.01 2289.0,604.10C2290.3,604.19 2291.7,604.27 2293.0,604.35C2294.3,604.43 2295.7,604.50 2297.0,604.57C2298.3,604.63 2299.7,604.68 2301.0,604.72C2302.3,604.76 2303.7,604.79 2305.0,604.80C2306.3,604.82 2307.7,604.81 2309.0,604.80C2310.3,604.79 2311.7,604.77 2313.0,604.75C2314.3,604.74 2315.7,604.72 2317.0,604.72C2318.3,604.71 2319.7,604.72 2321.0,604.75C2322.3,604.78 2323.7,604.83 2325.0,604.91C2326.3,604.99 2327.7,605.11 2329.0,605.26C2330.3,605.41 2331.7,605.61 2333.0,605.85C2333.5,605.94 2334.0,606.04 2334.5,606.15C2335.0,606.26 2335.5,606.37 2336.0,606.49C2336.5,606.61 2337.0,606.74 2337.5,606.88C2338.0,607.02 2338.5,607.17 2339.0,607.32C2339.5,607.48 2340.0,607.65 2340.5,607.82C2341.0,608.00 2341.5,608.18 2342.0,608.38C2342.5,608.57 2343.0,608.77 2343.5,608.99C2344.0,609.21 2344.5,609.47 2345.0,609.90C2345.5,610.34 2346.0,610.94 2346.5,611.86C2347.0,612.78 2347.5,614.01 2348.0,615.68C2348.5,617.35 2349.0,619.49 2349.5,621.99C2350.0,624.49 2350.5,627.35 2351.0,630.49C2351.5,633.62 2352.0,637.01 2352.5,640.61C2353.0,644.21 2353.5,648.04 2354.0,652.04C2354.3,654.71 2354.7,657.47 2355.0,660.29" stroke="#959fa4" stroke-width="6.3" stroke-dasharray="18 9" mask="url(#fade)"/>
<path d="M45.0,365.5C46.3,365.47 47.7,365.40 49.0,365.34C50.3,365.27 51.7,365.21 53.0,365.15C54.3,365.08 55.7,365.02 57.0,364.96C58.3,364.91 59.7,364.85 61.0,364.79C62.3,364.74 63.7,364.69 65.0,364.64C66.3,364.58 67.7,364.53 69.0,364.49C70.3,364.44 71.7,364.39 73.0,364.35C74.3,364.30 75.7,364.26 77.0,364.22C78.3,364.18 79.7,364.14 81.0,364.10C82.3,364.06 83.7,364.03 85.0,363.99C86.3,363.96 87.7,363.93 89.0,363.90C90.3,363.87 91.7,363.84 93.0,363.81C94.3,363.78 95.7,363.76 97.0,363.73C98.3,363.71 99.7,363.69 101.0,363.67C102.3,363.65 103.7,363.63 105.0,363.61C106.3,363.60 107.7,363.58 109.0,363.57C110.3,363.56 111.7,363.55 113.0,363.54C114.3,363.53 115.7,363.52 117.0,363.51C118.3,363.51 119.7,363.50 121.0,363.50C122.3,363.50 123.7,363.50 125.0,363.50C126.3,363.50 127.7,363.51 129.0,363.51C130.3,363.52 131.7,363.52 133.0,363.53C134.3,363.54 135.7,363.55 137.0,363.56C138.3,363.58 139.7,363.59 141.0,363.61C142.3,363.62 143.7,363.64 145.0,363.66C146.3,363.68 147.7,363.70 149.0,363.72C150.3,363.75 151.7,363.77 153.0,363.80C154.3,363.82 155.7,363.85 157.0,363.88C158.3,363.91 159.7,363.95 161.0,363.98C162.3,364.02 163.7,364.05 165.0,364.09C166.3,364.13 167.7,364.17 169.0,364.21C170.3,364.25 171.7,364.29 173.0,364.34C174.3,364.38 175.7,364.43 177.0,364.48C178.3,364.53 179.7,364.58 181.0,364.63C182.3,364.69 183.7,364.74 185.0,364.80C186.3,364.85 187.7,364.91 189.0,364.97C190.3,365.03 191.7,365.09 193.0,365.16C194.3,365.22 195.7,365.29 197.0,365.36C198.3,365.42 199.7,365.49 201.0,365.56C202.3,365.64 203.7,365.71 205.0,365.78C206.3,365.86 207.7,365.94 209.0,366.02C210.3,366.09 211.7,366.18 213.0,366.26C214.3,366.34 215.7,366.43 217.0,366.51C218.3,366.60 219.7,366.69 221.0,366.78C222.3,366.87 223.7,366.96 225.0,367.06C226.3,367.15 227.7,367.25 229.0,367.34C230.3,367.44 231.7,367.54 233.0,367.64C234.3,367.75 235.7,367.85 237.0,367.96C238.3,368.06 239.7,368.17 241.0,368.28C242.3,368.39 243.7,368.50 245.0,368.61C246.3,368.73 247.7,368.84 249.0,368.96C250.3,369.08 251.7,369.20 253.0,369.32C254.3,369.44 255.7,369.56 257.0,369.69C258.3,369.81 259.7,369.94 261.0,370.07C262.3,370.20 263.7,370.33 265.0,370.46C266.3,370.60 267.7,370.73 269.0,370.87C270.3,371.00 271.7,371.14 273.0,371.28C274.3,371.42 275.7,371.57 277.0,371.71C278.3,371.86 279.7,372.00 281.0,372.15C282.3,372.30 283.7,372.45 285.0,372.60C286.3,372.76 287.7,372.91 289.0,373.07C290.3,373.22 291.7,373.38 293.0,373.54C294.3,373.70 295.7,373.87 297.0,374.03C298.3,374.20 299.7,374.36 301.0,374.53C302.3,374.70 303.7,374.87 305.0,375.04C306.3,375.22 307.7,375.39 309.0,375.57C310.3,375.74 311.7,375.92 313.0,376.10C314.3,376.28 315.7,376.47 317.0,376.65C318.3,376.84 319.7,377.02 321.0,377.21C322.3,377.40 323.7,377.59 325.0,377.78C326.3,377.98 327.7,378.17 329.0,378.37C330.3,378.56 331.7,378.76 333.0,378.96C334.3,379.17 335.7,379.37 337.0,379.57C338.3,379.78 339.7,379.99 341.0,380.19C342.3,380.40 343.7,380.61 345.0,380.83C346.3,381.04 347.7,381.26 349.0,381.47C350.3,381.69 351.7,381.91 353.0,382.13C354.3,382.35 355.7,382.58 357.0,382.80C358.3,383.03 359.7,383.25 361.0,383.48C362.3,383.71 363.7,383.94 365.0,384.18C366.3,384.41 367.7,384.65 369.0,384.89C370.3,385.12 371.7,385.36 373.0,385.60C374.3,385.85 375.7,386.09 377.0,386.34C378.3,386.58 379.7,386.83 381.0,387.08C382.3,387.33 383.7,387.58 385.0,387.84C386.3,388.09 387.7,388.34 389.0,388.60C390.3,388.86 391.7,389.12 393.0,389.38C394.3,389.64 395.7,389.91 397.0,390.17C398.3,390.44 399.7,390.71 401.0,390.98C402.3,391.25 403.7,391.52 405.0,391.79C406.3,392.07 407.7,392.34 409.0,392.62C410.3,392.90 411.7,393.18 413.0,393.46C414.3,393.74 415.7,394.02 417.0,394.31C418.3,394.59 419.7,394.88 421.0,395.17C422.3,395.46 423.7,395.75 425.0,396.04C426.3,396.34 427.7,396.63 429.0,396.93C430.3,397.23 431.7,397.53 433.0,397.83C434.3,398.13 435.7,398.43 437.0,398.74C438.3,399.04 439.7,399.35 441.0,399.66C442.3,399.96 443.7,400.28 445.0,400.59C446.3,400.90 447.7,401.21 449.0,401.53C450.3,401.85 451.7,402.17 453.0,402.49C454.3,402.81 455.7,403.13 457.0,403.45C458.3,403.77 459.7,404.10 461.0,404.43C462.3,404.76 463.7,405.08 465.0,405.42C466.3,405.75 467.7,406.08 469.0,406.42C470.3,406.75 471.7,407.09 473.0,407.43C474.3,407.77 475.7,408.11 477.0,408.45C478.3,408.79 479.7,409.13 481.0,409.48C482.3,409.83 483.7,410.18 485.0,410.52C486.3,410.87 487.7,411.23 489.0,411.58C490.3,411.93 491.7,412.29 493.0,412.65C494.3,413.00 495.7,413.36 497.0,413.72C498.3,414.08 499.7,414.45 501.0,414.81C502.3,415.17 503.7,415.54 505.0,415.91C506.3,416.28 507.7,416.65 509.0,417.02C510.3,417.39 511.7,417.76 513.0,418.14C514.3,418.51 515.7,418.89 517.0,419.27C518.3,419.65 519.7,420.03 521.0,420.41C522.3,420.79 523.7,421.17 525.0,421.56C526.3,421.94 527.7,422.33 529.0,422.72C530.3,423.10 531.7,423.49 533.0,423.88C534.3,424.27 535.7,424.66 537.0,425.05C538.3,425.45 539.7,425.84 541.0,426.23C542.3,426.63 543.7,427.02 545.0,427.42C546.3,427.82 547.7,428.21 549.0,428.61C550.3,429.01 551.7,429.41 553.0,429.81C554.3,430.21 555.7,430.61 557.0,431.01C558.3,431.41 559.7,431.81 561.0,432.21C562.3,432.61 563.7,433.01 565.0,433.42C566.3,433.82 567.7,434.22 569.0,434.63C570.3,435.03 571.7,435.43 573.0,435.84C574.3,436.24 575.7,436.64 577.0,437.05C578.3,437.45 579.7,437.86 581.0,438.26C582.3,438.66 583.7,439.07 585.0,439.47C586.3,439.87 587.7,440.28 589.0,440.68C590.3,441.09 591.7,441.49 593.0,441.89C594.3,442.29 595.7,442.70 597.0,443.10C598.3,443.50 599.7,443.90 601.0,444.30C602.3,444.71 603.7,445.11 605.0,445.51C606.3,445.91 607.7,446.30 609.0,446.70C610.3,447.10 611.7,447.50 613.0,447.90C614.3,448.29 615.7,448.69 617.0,449.08C618.3,449.48 619.7,449.87 621.0,450.27C622.3,450.66 623.7,451.05 625.0,451.44C626.3,451.83 627.7,452.22 629.0,452.61C630.3,453.00 631.7,453.39 633.0,453.77C634.3,454.16 635.7,454.54 637.0,454.93C638.3,455.31 639.7,455.69 641.0,456.07C642.3,456.45 643.7,456.83 645.0,457.21C646.3,457.58 647.7,457.96 649.0,458.33C650.3,458.70 651.7,459.08 653.0,459.45C654.3,459.81 655.7,460.18 657.0,460.55C658.3,460.91 659.7,461.28 661.0,461.64C662.3,462.00 663.7,462.35 665.0,462.71C666.3,463.06 667.7,463.41 669.0,463.75C670.3,464.10 671.7,464.44 673.0,464.78C674.3,465.12 675.7,465.45 677.0,465.78C678.3,466.10 679.7,466.42 681.0,466.74C682.3,467.06 683.7,467.37 685.0,467.67C686.3,467.98 687.7,468.27 689.0,468.56C690.3,468.85 691.7,469.14 693.0,469.41C694.3,469.69 695.7,469.96 697.0,470.22C698.3,470.48 699.7,470.74 701.0,470.98C702.3,471.22 703.7,471.46 705.0,471.69C706.3,471.91 707.7,472.13 709.0,472.34C710.3,472.55 711.7,472.74 713.0,472.93C714.3,473.12 715.7,473.30 717.0,473.47C718.3,473.63 719.7,473.79 721.0,473.93C722.3,474.08 723.7,474.21 725.0,474.33C726.3,474.46 727.7,474.57 729.0,474.68C730.3,474.78 731.7,474.88 733.0,474.97C734.3,475.06 735.7,475.14 737.0,475.21C738.3,475.29 739.7,475.36 741.0,475.42C742.3,475.48 743.7,475.54 745.0,475.60C746.3,475.65 747.7,475.70 749.0,475.75C750.3,475.80 751.7,475.85 753.0,475.89C754.3,475.94 755.7,475.98 757.0,476.03C758.3,476.07 759.7,476.11 761.0,476.16C762.3,476.20 763.7,476.25 765.0,476.29C766.3,476.34 767.7,476.39 769.0,476.45C770.3,476.50 771.7,476.56 773.0,476.62C774.3,476.68 775.7,476.75 777.0,476.82C778.3,476.89 779.7,476.97 781.0,477.05C782.3,477.13 783.7,477.22 785.0,477.31C786.3,477.40 787.7,477.49 789.0,477.59C790.3,477.68 791.7,477.78 793.0,477.89C794.3,477.99 795.7,478.10 797.0,478.21C798.3,478.32 799.7,478.43 801.0,478.55C802.3,478.66 803.7,478.78 805.0,478.91C806.3,479.03 807.7,479.15 809.0,479.28C810.3,479.40 811.7,479.53 813.0,479.66C814.3,479.79 815.7,479.92 817.0,480.05C818.3,480.19 819.7,480.32 821.0,480.46C822.3,480.59 823.7,480.73 825.0,480.87C826.3,481.01 827.7,481.15 829.0,481.28C830.3,481.42 831.7,481.56 833.0,481.70C834.3,481.84 835.7,481.98 837.0,482.12C838.3,482.27 839.7,482.41 841.0,482.55C842.3,482.69 843.7,482.82 845.0,482.96C846.3,483.10 847.7,483.24 849.0,483.38C850.3,483.51 851.7,483.65 853.0,483.79C854.3,483.92 855.7,484.05 857.0,484.19C858.3,484.32 859.7,484.45 861.0,484.58C862.3,484.70 863.7,484.83 865.0,484.95C866.3,485.08 867.7,485.20 869.0,485.32C870.3,485.44 871.7,485.56 873.0,485.67C874.3,485.78 875.7,485.89 877.0,486.00C878.3,486.11 879.7,486.21 881.0,486.32C882.3,486.42 883.7,486.51 885.0,486.61C886.3,486.70 887.7,486.79 889.0,486.88C890.3,486.96 891.7,487.05 893.0,487.12C894.3,487.20 895.7,487.27 897.0,487.34C898.3,487.41 899.7,487.48 901.0,487.54C902.3,487.60 903.7,487.66 905.0,487.72C906.3,487.77 907.7,487.83 909.0,487.87C910.3,487.92 911.7,487.97 913.0,488.01C914.3,488.06 915.7,488.10 917.0,488.13C918.3,488.17 919.7,488.20 921.0,488.24C922.3,488.27 923.7,488.30 925.0,488.33C926.3,488.35 927.7,488.38 929.0,488.40C930.3,488.43 931.7,488.45 933.0,488.47C934.3,488.49 935.7,488.51 937.0,488.52C938.3,488.54 939.7,488.55 941.0,488.57C942.3,488.58 943.7,488.59 945.0,488.60C946.3,488.61 947.7,488.62 949.0,488.63C950.3,488.64 951.7,488.65 953.0,488.66C954.3,488.67 955.7,488.67 957.0,488.68C958.3,488.69 959.7,488.69 961.0,488.70C962.3,488.71 963.7,488.71 965.0,488.72C966.3,488.72 967.7,488.73 969.0,488.74C970.3,488.74 971.7,488.75 973.0,488.76C974.3,488.77 975.7,488.77 977.0,488.78C978.3,488.79 979.7,488.80 981.0,488.81C982.3,488.82 983.7,488.83 985.0,488.84C986.3,488.86 987.7,488.87 989.0,488.88C990.3,488.90 991.7,488.92 993.0,488.93C994.3,488.95 995.7,488.97 997.0,488.99C998.3,489.02 999.7,489.04 1001.0,489.06C1002.3,489.09 1003.7,489.12 1005.0,489.15C1006.3,489.18 1007.7,489.21 1009.0,489.25C1010.3,489.28 1011.7,489.32 1013.0,489.36C1014.3,489.40 1015.7,489.44 1017.0,489.48C1018.3,489.53 1019.7,489.57 1021.0,489.62C1022.3,489.67 1023.7,489.72 1025.0,489.78C1026.3,489.83 1027.7,489.89 1029.0,489.95C1030.3,490.00 1031.7,490.07 1033.0,490.13C1034.3,490.19 1035.7,490.26 1037.0,490.32C1038.3,490.39 1039.7,490.46 1041.0,490.53C1042.3,490.60 1043.7,490.68 1045.0,490.75C1046.3,490.83 1047.7,490.91 1049.0,490.99C1050.3,491.07 1051.7,491.15 1053.0,491.23C1054.3,491.32 1055.7,491.41 1057.0,491.49C1058.3,491.58 1059.7,491.67 1061.0,491.77C1062.3,491.86 1063.7,491.95 1065.0,492.05C1066.3,492.15 1067.7,492.24 1069.0,492.35C1070.3,492.45 1071.7,492.55 1073.0,492.65C1074.3,492.76 1075.7,492.86 1077.0,492.97C1078.3,493.08 1079.7,493.19 1081.0,493.30C1082.3,493.41 1083.7,493.53 1085.0,493.64C1086.3,493.76 1087.7,493.88 1089.0,494.00C1090.3,494.12 1091.7,494.24 1093.0,494.36C1094.3,494.48 1095.7,494.61 1097.0,494.73C1098.3,494.86 1099.7,494.99 1101.0,495.12C1102.3,495.25 1103.7,495.38 1105.0,495.51C1106.3,495.65 1107.7,495.78 1109.0,495.92C1110.3,496.06 1111.7,496.19 1113.0,496.33C1114.3,496.47 1115.7,496.62 1117.0,496.76C1118.3,496.90 1119.7,497.05 1121.0,497.19C1122.3,497.34 1123.7,497.49 1125.0,497.64C1126.3,497.79 1127.7,497.94 1129.0,498.09C1130.3,498.24 1131.7,498.40 1133.0,498.55C1134.3,498.71 1135.7,498.86 1137.0,499.02C1138.3,499.18 1139.7,499.34 1141.0,499.50C1142.3,499.66 1143.7,499.82 1145.0,499.98C1146.3,500.14 1147.7,500.30 1149.0,500.46C1150.3,500.63 1151.7,500.79 1153.0,500.96C1154.3,501.12 1155.7,501.29 1157.0,501.45C1158.3,501.62 1159.7,501.79 1161.0,501.95C1162.3,502.12 1163.7,502.29 1165.0,502.46C1166.3,502.63 1167.7,502.80 1169.0,502.96C1170.3,503.13 1171.7,503.30 1173.0,503.47C1174.3,503.64 1175.7,503.81 1177.0,503.98C1178.3,504.15 1179.7,504.32 1181.0,504.49C1182.3,504.66 1183.7,504.83 1185.0,505.00C1186.3,505.17 1187.7,505.34 1189.0,505.51C1190.3,505.67 1191.7,505.84 1193.0,506.01C1194.3,506.18 1195.7,506.35 1197.0,506.52C1198.3,506.68 1199.7,506.85 1201.0,507.02C1202.3,507.18 1203.7,507.35 1205.0,507.51C1206.3,507.68 1207.7,507.84 1209.0,508.01C1210.3,508.17 1211.7,508.33 1213.0,508.50C1214.3,508.66 1215.7,508.82 1217.0,508.98C1218.3,509.14 1219.7,509.30 1221.0,509.46C1222.3,509.61 1223.7,509.77 1225.0,509.93C1226.3,510.08 1227.7,510.24 1229.0,510.39C1230.3,510.54 1231.7,510.69 1233.0,510.84C1234.3,510.99 1235.7,511.14 1237.0,511.29C1238.3,511.43 1239.7,511.58 1241.0,511.72C1242.3,511.87 1243.7,512.01 1245.0,512.15C1246.3,512.29 1247.7,512.42 1249.0,512.56C1250.3,512.69 1251.7,512.82 1253.0,512.95C1254.3,513.08 1255.7,513.20 1257.0,513.32C1258.3,513.43 1259.7,513.55 1261.0,513.66C1262.3,513.77 1263.7,513.87 1265.0,513.97C1266.3,514.06 1267.7,514.16 1269.0,514.24C1270.3,514.33 1271.7,514.41 1273.0,514.48C1274.3,514.55 1275.7,514.61 1277.0,514.67C1278.3,514.73 1279.7,514.78 1281.0,514.82C1282.3,514.86 1283.7,514.89 1285.0,514.91C1286.3,514.94 1287.7,514.95 1289.0,514.95C1290.3,514.96 1291.7,514.95 1293.0,514.93C1294.3,514.92 1295.7,514.89 1297.0,514.85C1298.3,514.82 1299.7,514.77 1301.0,514.71C1302.3,514.64 1303.7,514.57 1305.0,514.49C1306.3,514.40 1307.7,514.30 1309.0,514.19C1310.3,514.08 1311.7,513.96 1313.0,513.82C1314.3,513.68 1315.7,513.53 1317.0,513.36C1318.3,513.20 1319.7,513.02 1321.0,512.82C1322.3,512.63 1323.7,512.42 1325.0,512.20C1326.3,511.98 1327.7,511.75 1329.0,511.50C1330.3,511.25 1331.7,510.99 1333.0,510.72C1334.3,510.45 1335.7,510.16 1337.0,509.86C1338.3,509.56 1339.7,509.25 1341.0,508.93C1342.3,508.60 1343.7,508.27 1345.0,507.92C1346.3,507.57 1347.7,507.21 1349.0,506.84C1350.3,506.47 1351.7,506.09 1353.0,505.69C1354.3,505.30 1355.7,504.89 1357.0,504.48C1358.3,504.06 1359.7,503.63 1361.0,503.19C1362.3,502.76 1363.7,502.31 1365.0,501.86C1366.3,501.40 1367.7,500.94 1369.0,500.47C1370.3,500.01 1371.7,499.53 1373.0,499.05C1374.3,498.57 1375.7,498.09 1377.0,497.60C1378.3,497.11 1379.7,496.62 1381.0,496.12C1382.3,495.63 1383.7,495.13 1385.0,494.63C1386.3,494.13 1387.7,493.63 1389.0,493.13C1390.3,492.63 1391.7,492.13 1393.0,491.63C1394.3,491.13 1395.7,490.63 1397.0,490.14C1398.3,489.64 1399.7,489.15 1401.0,488.66C1402.3,488.17 1403.7,487.69 1405.0,487.21C1406.3,486.73 1407.7,486.26 1409.0,485.79C1410.3,485.33 1411.7,484.87 1413.0,484.41C1414.3,483.96 1415.7,483.51 1417.0,483.06C1418.3,482.62 1419.7,482.18 1421.0,481.74C1422.3,481.30 1423.7,480.87 1425.0,480.45C1426.3,480.02 1427.7,479.60 1429.0,479.18C1430.3,478.77 1431.7,478.35 1433.0,477.94C1434.3,477.53 1435.7,477.13 1437.0,476.73C1438.3,476.32 1439.7,475.92 1441.0,475.53C1442.3,475.13 1443.7,474.74 1445.0,474.35C1446.3,473.96 1447.7,473.57 1449.0,473.19C1450.3,472.80 1451.7,472.42 1453.0,472.04C1454.3,471.66 1455.7,471.28 1457.0,470.91C1458.3,470.53 1459.7,470.16 1461.0,469.78C1462.3,469.41 1463.7,469.04 1465.0,468.67C1466.3,468.30 1467.7,467.93 1469.0,467.56C1470.3,467.19 1471.7,466.82 1473.0,466.45C1474.3,466.09 1475.7,465.72 1477.0,465.35C1478.3,464.98 1479.7,464.62 1481.0,464.25C1482.3,463.88 1483.7,463.51 1485.0,463.15C1486.3,462.78 1487.7,462.41 1489.0,462.04C1490.3,461.67 1491.7,461.30 1493.0,460.93C1494.3,460.56 1495.7,460.18 1497.0,459.81C1498.3,459.43 1499.7,459.06 1501.0,458.68C1502.3,458.30 1503.7,457.92 1505.0,457.53C1506.3,457.15 1507.7,456.76 1509.0,456.37C1510.3,455.98 1511.7,455.59 1513.0,455.19C1514.3,454.80 1515.7,454.40 1517.0,453.99C1518.3,453.59 1519.7,453.18 1521.0,452.77C1522.3,452.36 1523.7,451.94 1525.0,451.52C1526.3,451.10 1527.7,450.67 1529.0,450.24C1530.3,449.81 1531.7,449.37 1533.0,448.93C1534.3,448.48 1535.7,448.04 1537.0,447.58C1538.3,447.13 1539.7,446.66 1541.0,446.20C1542.3,445.73 1543.7,445.25 1545.0,444.77C1546.3,444.29 1547.7,443.80 1549.0,443.31C1550.3,442.81 1551.7,442.30 1553.0,441.79C1554.3,441.28 1555.7,440.76 1557.0,440.23C1558.3,439.70 1559.7,439.17 1561.0,438.62C1562.3,438.07 1563.7,437.52 1565.0,436.96C1566.3,436.39 1567.7,435.82 1569.0,435.23C1570.3,434.65 1571.7,434.06 1573.0,433.45C1574.3,432.85 1575.7,432.24 1577.0,431.61C1578.3,430.98 1579.7,430.35 1581.0,429.70C1582.3,429.05 1583.7,428.39 1585.0,427.72C1586.3,427.04 1587.7,426.36 1589.0,425.66C1590.3,424.96 1591.7,424.25 1593.0,423.53C1594.3,422.80 1595.7,422.07 1597.0,421.31C1598.3,420.56 1599.7,419.79 1601.0,419.01C1602.3,418.23 1603.7,417.44 1605.0,416.62C1606.3,415.81 1607.7,414.99 1609.0,414.14C1610.3,413.30 1611.7,412.44 1613.0,411.57C1614.3,410.69 1615.7,409.80 1617.0,408.89C1618.3,407.98 1619.7,407.06 1621.0,406.12C1622.3,405.19 1623.7,404.24 1625.0,403.27C1626.3,402.31 1627.7,401.34 1629.0,400.36C1630.3,399.38 1631.7,398.39 1633.0,397.40C1634.3,396.40 1635.7,395.40 1637.0,394.40C1638.3,393.39 1639.7,392.39 1641.0,391.38C1642.3,390.37 1643.7,389.36 1645.0,388.36C1646.3,387.35 1647.7,386.34 1649.0,385.34C1650.3,384.33 1651.7,383.33 1653.0,382.34C1654.3,381.35 1655.7,380.36 1657.0,379.37C1658.3,378.39 1659.7,377.42 1661.0,376.45C1662.3,375.48 1663.7,374.53 1665.0,373.58C1666.3,372.64 1667.7,371.70 1669.0,370.78C1670.3,369.86 1671.7,368.96 1673.0,368.07C1674.3,367.17 1675.7,366.30 1677.0,365.44C1678.3,364.58 1679.7,363.74 1681.0,362.92C1682.3,362.10 1683.7,361.30 1685.0,360.52C1686.3,359.74 1687.7,358.98 1689.0,358.24C1690.3,357.51 1691.7,356.79 1693.0,356.11C1694.3,355.42 1695.7,354.77 1697.0,354.14C1698.3,353.51 1699.7,352.91 1701.0,352.35C1702.3,351.78 1703.7,351.25 1705.0,350.76C1706.3,350.27 1707.7,349.81 1709.0,349.40C1710.3,348.99 1711.7,348.62 1713.0,348.29C1714.3,347.96 1715.7,347.68 1717.0,347.44C1718.3,347.21 1719.7,347.02 1721.0,346.87C1722.3,346.72 1723.7,346.62 1725.0,346.55C1726.3,346.48 1727.7,346.46 1729.0,346.47C1730.3,346.48 1731.7,346.52 1733.0,346.60C1734.3,346.68 1735.7,346.79 1737.0,346.93C1738.3,347.07 1739.7,347.24 1741.0,347.43C1742.3,347.63 1743.7,347.85 1745.0,348.10C1746.3,348.34 1747.7,348.62 1749.0,348.91C1750.3,349.21 1751.7,349.52 1753.0,349.86C1754.3,350.20 1755.7,350.56 1757.0,350.94C1758.3,351.32 1759.7,351.72 1761.0,352.14C1762.3,352.55 1763.7,352.99 1765.0,353.44C1766.3,353.89 1767.7,354.35 1769.0,354.83C1770.3,355.31 1771.7,355.80 1773.0,356.31C1774.3,356.81 1775.7,357.32 1777.0,357.84C1778.3,358.37 1779.7,358.90 1781.0,359.43C1782.3,359.97 1783.7,360.51 1785.0,361.06C1786.3,361.60 1787.7,362.15 1789.0,362.70C1790.3,363.25 1791.7,363.80 1793.0,364.35C1794.3,364.90 1795.7,365.45 1797.0,366.01C1798.3,366.57 1799.7,367.13 1801.0,367.70C1802.3,368.26 1803.7,368.84 1805.0,369.42C1806.3,370.00 1807.7,370.59 1809.0,371.19C1810.3,371.79 1811.7,372.40 1813.0,373.02C1814.3,373.64 1815.7,374.28 1817.0,374.93C1818.3,375.58 1819.7,376.25 1821.0,376.93C1822.3,377.61 1823.7,378.31 1825.0,379.03C1826.3,379.75 1827.7,380.49 1829.0,381.24C1830.3,382.00 1831.7,382.78 1833.0,383.59C1834.3,384.39 1835.7,385.22 1837.0,386.07C1838.3,386.92 1839.7,387.80 1841.0,388.71C1842.3,389.61 1843.7,390.55 1845.0,391.50C1846.3,392.45 1847.7,393.42 1849.0,394.41C1850.3,395.39 1851.7,396.39 1853.0,397.39C1854.3,398.40 1855.7,399.41 1857.0,400.42C1858.3,401.43 1859.7,402.44 1861.0,403.45C1862.3,404.45 1863.7,405.45 1865.0,406.44C1866.3,407.42 1867.7,408.40 1869.0,409.36C1870.3,410.32 1871.7,411.27 1873.0,412.21C1874.3,413.15 1875.7,414.07 1877.0,414.99C1878.3,415.91 1879.7,416.82 1881.0,417.73C1882.3,418.63 1883.7,419.53 1885.0,420.41C1886.3,421.30 1887.7,422.19 1889.0,423.07C1890.3,423.95 1891.7,424.82 1893.0,425.69C1894.3,426.56 1895.7,427.43 1897.0,428.29C1898.3,429.16 1899.7,430.02 1901.0,430.87C1902.3,431.73 1903.7,432.57 1905.0,433.42C1906.3,434.26 1907.7,435.09 1909.0,435.92C1910.3,436.75 1911.7,437.57 1913.0,438.39C1914.3,439.20 1915.7,440.02 1917.0,440.85C1918.3,441.68 1919.7,442.52 1921.0,443.38C1922.3,444.24 1923.7,445.12 1925.0,446.02C1926.3,446.93 1927.7,447.87 1929.0,448.85C1930.3,449.82 1931.7,450.84 1933.0,451.88C1934.3,452.92 1935.7,453.99 1937.0,455.08C1938.3,456.17 1939.7,457.27 1941.0,458.38C1942.3,459.50 1943.7,460.61 1945.0,461.73C1946.3,462.84 1947.7,463.95 1949.0,465.04C1950.3,466.14 1951.7,467.22 1953.0,468.27C1954.3,469.32 1955.7,470.35 1957.0,471.34C1958.3,472.34 1959.7,473.29 1961.0,474.20C1962.3,475.11 1963.7,475.97 1965.0,476.77C1966.3,477.58 1967.7,478.32 1969.0,479.00C1970.3,479.67 1971.7,480.28 1973.0,480.81C1974.3,481.33 1975.7,481.78 1977.0,482.13C1978.3,482.48 1979.7,482.73 1981.0,482.88C1982.3,483.03 1983.7,483.07 1985.0,482.99C1986.3,482.92 1987.7,482.72 1989.0,482.39C1990.3,482.06 1991.7,481.60 1993.0,481.00C1994.3,480.39 1995.7,479.65 1997.0,478.79C1998.3,477.92 1999.7,476.92 2001.0,475.81C2002.3,474.69 2003.7,473.46 2005.0,472.11C2006.3,470.76 2007.7,469.30 2009.0,467.74C2010.3,466.18 2011.7,464.59 2013.0,462.67C2014.3,460.74 2015.7,458.41 2017.0,455.93C2018.3,453.46 2019.7,450.86 2021.0,448.39C2022.3,445.92 2023.7,443.55 2025.0,441.21C2026.3,438.87 2027.7,436.55 2029.0,434.20C2030.3,431.85 2031.7,429.48 2033.0,427.16C2034.3,424.83 2035.7,422.54 2037.0,420.36C2038.3,418.18 2039.7,416.14 2041.0,414.43C2042.3,412.73 2043.7,411.39 2045.0,410.47C2046.3,409.55 2047.7,409.02 2049.0,408.77C2050.3,408.53 2051.7,408.49 2053.0,409.15C2054.3,409.80 2055.7,411.45 2057.0,413.56C2058.3,415.68 2059.7,417.66 2061.0,419.99C2062.3,422.32 2063.7,425.40 2065.0,428.96C2066.3,432.53 2067.7,436.42 2069.0,440.19C2070.3,443.96 2071.7,447.71 2073.0,451.39C2074.3,455.07 2075.7,458.68 2077.0,462.18C2078.3,465.69 2079.7,469.10 2081.0,472.31C2082.3,475.52 2083.7,478.54 2085.0,481.29C2086.3,484.03 2087.7,486.47 2089.0,488.60C2090.3,490.73 2091.7,492.57 2093.0,494.21C2094.3,495.85 2095.7,497.29 2097.0,498.61C2098.3,499.94 2099.7,501.15 2101.0,502.20C2102.3,503.25 2103.7,504.13 2105.0,504.79C2106.3,505.45 2107.7,505.89 2109.0,506.06C2110.3,506.23 2111.7,506.13 2113.0,505.79C2114.3,505.46 2115.7,504.90 2117.0,504.16C2118.3,503.42 2119.7,502.50 2121.0,501.44C2122.3,500.38 2123.7,499.17 2125.0,497.89C2126.3,496.61 2127.7,495.26 2129.0,493.89C2130.3,492.53 2131.7,491.16 2133.0,489.85C2134.3,488.54 2135.7,487.26 2137.0,486.20C2138.3,485.14 2139.7,484.34 2141.0,483.78C2142.3,483.22 2143.7,482.91 2145.0,482.82C2146.3,482.73 2147.7,482.86 2149.0,483.21C2150.3,483.56 2151.7,484.13 2153.0,484.90C2154.3,485.67 2155.7,486.65 2157.0,487.83C2158.3,489.01 2159.7,490.38 2161.0,491.95C2162.3,493.52 2163.7,495.27 2165.0,497.23C2166.3,499.19 2167.7,501.36 2169.0,503.79C2170.3,506.22 2171.7,508.90 2173.0,511.89C2174.3,514.87 2175.7,518.19 2177.0,521.75C2178.3,525.31 2179.7,529.05 2181.0,532.68C2182.3,536.31 2183.7,539.78 2185.0,543.22C2186.3,546.66 2187.7,550.08 2189.0,553.52C2190.3,556.96 2191.7,560.35 2193.0,563.54C2194.3,566.73 2195.7,569.76 2197.0,572.57C2198.3,575.38 2199.7,577.99 2201.0,580.34C2202.3,582.69 2203.7,584.80 2205.0,586.61C2206.3,588.43 2207.7,589.95 2209.0,591.14C2210.3,592.34 2211.7,593.20 2213.0,593.70C2214.3,594.19 2215.7,594.31 2217.0,594.04C2218.3,593.77 2219.7,593.16 2221.0,592.37C2222.3,591.59 2223.7,590.65 2225.0,589.69C2226.3,588.73 2227.7,587.75 2229.0,586.85C2230.3,585.96 2231.7,585.18 2233.0,584.56C2234.3,583.95 2235.7,583.49 2237.0,583.15C2238.3,582.81 2239.7,582.60 2241.0,582.48C2242.3,582.36 2243.7,582.33 2245.0,582.37C2246.3,582.41 2247.7,582.52 2249.0,582.65C2250.3,582.79 2251.7,582.94 2253.0,583.01C2254.3,583.09 2255.7,583.08 2257.0,582.90C2258.3,582.72 2259.7,582.36 2261.0,581.73C2262.3,581.11 2263.7,580.19 2265.0,578.98C2266.3,577.77 2267.7,576.29 2269.0,574.63C2270.3,572.96 2271.7,571.11 2273.0,569.15C2274.3,567.19 2275.7,565.12 2277.0,563.03C2278.3,560.94 2279.7,558.81 2281.0,556.82C2282.3,554.83 2283.7,552.99 2285.0,551.50C2286.3,550.01 2287.7,548.87 2289.0,548.28C2290.3,547.69 2291.7,547.73 2293.0,548.23C2294.3,548.74 2295.7,549.67 2297.0,550.75C2298.3,551.83 2299.7,553.04 2301.0,554.10C2302.3,555.17 2303.7,556.08 2305.0,556.54C2306.3,557.00 2307.7,556.93 2309.0,556.43C2310.3,555.93 2311.7,555.07 2313.0,554.21C2314.3,553.36 2315.7,552.51 2317.0,552.04C2318.3,551.56 2319.7,551.48 2321.0,552.09C2322.3,552.70 2323.7,553.95 2325.0,555.89C2326.3,557.83 2327.7,560.46 2329.0,563.83C2330.3,567.20 2331.7,571.14 2333.0,576.50C2333.5,578.51 2334.0,580.73 2334.5,583.23C2335.0,585.73 2335.5,588.49 2336.0,591.45C2336.5,594.42 2337.0,597.59 2337.5,600.93C2338.0,604.28 2338.5,607.80 2339.0,611.81C2339.5,615.81 2340.0,620.35 2340.5,625.48C2341.0,630.61 2341.5,636.23 2342.0,641.93C2342.5,647.64 2343.0,653.42 2343.5,658.92C2344.0,664.42 2344.5,669.70 2345.0,674.81C2345.5,679.93 2346.0,684.87 2346.5,689.70C2347.0,694.52 2347.5,699.22 2348.0,703.70C2348.5,708.18 2349.0,712.43 2349.5,716.38C2350.0,720.32 2350.5,723.94 2351.0,727.24C2351.5,730.55 2352.0,733.54 2352.5,736.23C2353.0,738.93 2353.5,741.32 2354.0,743.44C2354.3,744.84 2354.7,746.13 2355.0,747.29" stroke="#00aa00" mask="url(#fade)"/>
<path d="M45.0,329.7C46.3,329.74 47.7,329.78 49.0,329.83C50.3,329.87 51.7,329.91 53.0,329.95C54.3,329.99 55.7,330.04 57.0,330.08C58.3,330.12 59.7,330.16 61.0,330.21C62.3,330.25 63.7,330.29 65.0,330.33C66.3,330.38 67.7,330.42 69.0,330.46C70.3,330.51 71.7,330.55 73.0,330.59C74.3,330.64 75.7,330.68 77.0,330.72C78.3,330.77 79.7,330.81 81.0,330.86C82.3,330.90 83.7,330.95 85.0,330.99C86.3,331.04 87.7,331.08 89.0,331.13C90.3,331.17 91.7,331.22 93.0,331.26C94.3,331.31 95.7,331.35 97.0,331.40C98.3,331.45 99.7,331.49 101.0,331.54C102.3,331.59 103.7,331.64 105.0,331.68C106.3,331.73 107.7,331.78 109.0,331.83C110.3,331.88 111.7,331.92 113.0,331.97C114.3,332.02 115.7,332.07 117.0,332.12C118.3,332.17 119.7,332.22 121.0,332.27C122.3,332.32 123.7,332.38 125.0,332.43C126.3,332.48 127.7,332.53 129.0,332.58C130.3,332.64 131.7,332.69 133.0,332.74C134.3,332.80 135.7,332.85 137.0,332.90C138.3,332.96 139.7,333.01 141.0,333.07C142.3,333.12 143.7,333.18 145.0,333.24C146.3,333.29 147.7,333.35 149.0,333.41C150.3,333.46 151.7,333.52 153.0,333.58C154.3,333.64 155.7,333.70 157.0,333.76C158.3,333.82 159.7,333.88 161.0,333.94C162.3,334.00 163.7,334.06 165.0,334.12C166.3,334.18 167.7,334.25 169.0,334.31C170.3,334.37 171.7,334.44 173.0,334.50C174.3,334.57 175.7,334.63 177.0,334.70C178.3,334.76 179.7,334.83 181.0,334.90C182.3,334.96 183.7,335.03 185.0,335.10C186.3,335.17 187.7,335.24 189.0,335.31C190.3,335.38 191.7,335.45 193.0,335.52C194.3,335.59 195.7,335.67 197.0,335.74C198.3,335.81 199.7,335.89 201.0,335.96C202.3,336.04 203.7,336.11 205.0,336.19C206.3,336.26 207.7,336.34 209.0,336.42C210.3,336.50 211.7,336.57 213.0,336.65C214.3,336.73 215.7,336.81 217.0,336.90C218.3,336.98 219.7,337.06 221.0,337.14C222.3,337.22 223.7,337.31 225.0,337.39C226.3,337.48 227.7,337.56 229.0,337.65C230.3,337.74 231.7,337.82 233.0,337.91C234.3,338.00 235.7,338.09 237.0,338.18C238.3,338.27 239.7,338.36 241.0,338.45C242.3,338.55 243.7,338.64 245.0,338.73C246.3,338.83 247.7,338.92 249.0,339.02C250.3,339.11 251.7,339.21 253.0,339.31C254.3,339.41 255.7,339.51 257.0,339.61C258.3,339.71 259.7,339.81 261.0,339.91C262.3,340.01 263.7,340.12 265.0,340.22C266.3,340.33 267.7,340.43 269.0,340.54C270.3,340.64 271.7,340.75 273.0,340.86C274.3,340.97 275.7,341.08 277.0,341.19C278.3,341.30 279.7,341.41 281.0,341.53C282.3,341.64 283.7,341.76 285.0,341.87C286.3,341.99 287.7,342.10 289.0,342.22C290.3,342.34 291.7,342.46 293.0,342.58C294.3,342.70 295.7,342.82 297.0,342.95C298.3,343.07 299.7,343.19 301.0,343.32C302.3,343.44 303.7,343.57 305.0,343.70C306.3,343.83 307.7,343.95 309.0,344.09C310.3,344.22 311.7,344.35 313.0,344.48C314.3,344.61 315.7,344.75 317.0,344.88C318.3,345.02 319.7,345.16 321.0,345.29C322.3,345.43 323.7,345.57 325.0,345.71C326.3,345.85 327.7,346.00 329.0,346.14C330.3,346.28 331.7,346.43 333.0,346.58C334.3,346.72 335.7,346.87 337.0,347.02C338.3,347.17 339.7,347.32 341.0,347.47C342.3,347.62 343.7,347.78 345.0,347.93C346.3,348.09 347.7,348.25 349.0,348.40C350.3,348.56 351.7,348.72 353.0,348.88C354.3,349.04 355.7,349.20 357.0,349.37C358.3,349.53 359.7,349.70 361.0,349.87C362.3,350.03 363.7,350.20 365.0,350.37C366.3,350.54 367.7,350.71 369.0,350.88C370.3,351.06 371.7,351.23 373.0,351.41C374.3,351.58 375.7,351.76 377.0,351.94C378.3,352.12 379.7,352.30 381.0,352.48C382.3,352.66 383.7,352.85 385.0,353.03C386.3,353.22 387.7,353.40 389.0,353.59C390.3,353.78 391.7,353.97 393.0,354.16C394.3,354.35 395.7,354.54 397.0,354.74C398.3,354.93 399.7,355.13 401.0,355.32C402.3,355.52 403.7,355.72 405.0,355.92C406.3,356.12 407.7,356.32 409.0,356.53C410.3,356.73 411.7,356.93 413.0,357.14C414.3,357.35 415.7,357.56 417.0,357.76C418.3,357.97 419.7,358.19 421.0,358.40C422.3,358.61 423.7,358.82 425.0,359.04C426.3,359.26 427.7,359.47 429.0,359.69C430.3,359.91 431.7,360.13 433.0,360.35C434.3,360.57 435.7,360.80 437.0,361.02C438.3,361.25 439.7,361.47 441.0,361.70C442.3,361.93 443.7,362.16 445.0,362.39C446.3,362.62 447.7,362.86 449.0,363.09C450.3,363.33 451.7,363.56 453.0,363.80C454.3,364.04 455.7,364.28 457.0,364.52C458.3,364.76 459.7,365.00 461.0,365.24C462.3,365.49 463.7,365.73 465.0,365.98C466.3,366.23 467.7,366.47 469.0,366.73C470.3,366.98 471.7,367.23 473.0,367.48C474.3,367.73 475.7,367.99 477.0,368.25C478.3,368.50 479.7,368.76 481.0,369.02C482.3,369.28 483.7,369.54 485.0,369.80C486.3,370.07 487.7,370.33 489.0,370.60C490.3,370.86 491.7,371.13 493.0,371.40C494.3,371.67 495.7,371.94 497.0,372.21C498.3,372.49 499.7,372.76 501.0,373.04C502.3,373.31 503.7,373.59 505.0,373.87C506.3,374.15 507.7,374.43 509.0,374.71C510.3,374.99 511.7,375.28 513.0,375.56C514.3,375.85 515.7,376.14 517.0,376.43C518.3,376.71 519.7,377.01 521.0,377.30C522.3,377.59 523.7,377.88 525.0,378.18C526.3,378.47 527.7,378.77 529.0,379.07C530.3,379.37 531.7,379.67 533.0,379.97C534.3,380.27 535.7,380.58 537.0,380.88C538.3,381.19 539.7,381.49 541.0,381.80C542.3,382.11 543.7,382.42 545.0,382.73C546.3,383.05 547.7,383.36 549.0,383.67C550.3,383.99 551.7,384.31 553.0,384.63C554.3,384.94 555.7,385.26 557.0,385.59C558.3,385.91 559.7,386.23 561.0,386.56C562.3,386.88 563.7,387.21 565.0,387.54C566.3,387.87 567.7,388.20 569.0,388.53C570.3,388.86 571.7,389.19 573.0,389.53C574.3,389.86 575.7,390.20 577.0,390.54C578.3,390.88 579.7,391.22 581.0,391.56C582.3,391.90 583.7,392.25 585.0,392.59C586.3,392.94 587.7,393.28 589.0,393.63C590.3,393.98 591.7,394.33 593.0,394.68C594.3,395.04 595.7,395.39 597.0,395.75C598.3,396.10 599.7,396.46 601.0,396.82C602.3,397.18 603.7,397.54 605.0,397.90C606.3,398.26 607.7,398.63 609.0,398.99C610.3,399.36 611.7,399.73 613.0,400.09C614.3,400.46 615.7,400.83 617.0,401.21C618.3,401.58 619.7,401.95 621.0,402.33C622.3,402.71 623.7,403.08 625.0,403.46C626.3,403.84 627.7,404.22 629.0,404.61C630.3,404.99 631.7,405.38 633.0,405.76C634.3,406.15 635.7,406.54 637.0,406.93C638.3,407.32 639.7,407.71 641.0,408.10C642.3,408.50 643.7,408.89 645.0,409.29C646.3,409.68 647.7,410.08 649.0,410.48C650.3,410.88 651.7,411.29 653.0,411.69C654.3,412.09 655.7,412.50 657.0,412.91C658.3,413.31 659.7,413.72 661.0,414.13C662.3,414.54 663.7,414.96 665.0,415.37C666.3,415.78 667.7,416.20 669.0,416.61C670.3,417.03 671.7,417.44 673.0,417.86C674.3,418.28 675.7,418.70 677.0,419.11C678.3,419.53 679.7,419.95 681.0,420.37C682.3,420.79 683.7,421.21 685.0,421.64C686.3,422.06 687.7,422.48 689.0,422.90C690.3,423.32 691.7,423.74 693.0,424.17C694.3,424.59 695.7,425.01 697.0,425.43C698.3,425.86 699.7,426.28 701.0,426.70C702.3,427.12 703.7,427.54 705.0,427.96C706.3,428.38 707.7,428.80 709.0,429.22C710.3,429.64 711.7,430.06 713.0,430.48C714.3,430.90 715.7,431.32 717.0,431.74C718.3,432.15 719.7,432.57 721.0,432.98C722.3,433.40 723.7,433.81 725.0,434.22C726.3,434.64 727.7,435.05 729.0,435.46C730.3,435.87 731.7,436.27 733.0,436.68C734.3,437.09 735.7,437.49 737.0,437.89C738.3,438.30 739.7,438.70 741.0,439.10C742.3,439.50 743.7,439.89 745.0,440.29C746.3,440.68 747.7,441.08 749.0,441.47C750.3,441.86 751.7,442.25 753.0,442.63C754.3,443.02 755.7,443.40 757.0,443.78C758.3,444.16 759.7,444.54 761.0,444.92C762.3,445.29 763.7,445.66 765.0,446.03C766.3,446.40 767.7,446.77 769.0,447.13C770.3,447.50 771.7,447.86 773.0,448.21C774.3,448.57 775.7,448.92 777.0,449.27C778.3,449.62 779.7,449.97 781.0,450.31C782.3,450.65 783.7,450.99 785.0,451.33C786.3,451.66 787.7,451.99 789.0,452.32C790.3,452.65 791.7,452.97 793.0,453.29C794.3,453.61 795.7,453.93 797.0,454.24C798.3,454.55 799.7,454.85 801.0,455.15C802.3,455.46 803.7,455.75 805.0,456.05C806.3,456.34 807.7,456.63 809.0,456.91C810.3,457.19 811.7,457.47 813.0,457.75C814.3,458.02 815.7,458.29 817.0,458.55C818.3,458.81 819.7,459.07 821.0,459.33C822.3,459.58 823.7,459.83 825.0,460.07C826.3,460.31 827.7,460.55 829.0,460.78C830.3,461.01 831.7,461.23 833.0,461.45C834.3,461.67 835.7,461.89 837.0,462.10C838.3,462.30 839.7,462.50 841.0,462.70C842.3,462.90 843.7,463.09 845.0,463.27C846.3,463.45 847.7,463.63 849.0,463.80C850.3,463.98 851.7,464.14 853.0,464.31C854.3,464.47 855.7,464.62 857.0,464.77C858.3,464.93 859.7,465.07 861.0,465.21C862.3,465.35 863.7,465.49 865.0,465.62C866.3,465.75 867.7,465.88 869.0,466.00C870.3,466.13 871.7,466.24 873.0,466.36C874.3,466.47 875.7,466.58 877.0,466.69C878.3,466.79 879.7,466.89 881.0,466.99C882.3,467.09 883.7,467.18 885.0,467.28C886.3,467.37 887.7,467.45 889.0,467.54C890.3,467.62 891.7,467.70 893.0,467.78C894.3,467.86 895.7,467.93 897.0,468.00C898.3,468.07 899.7,468.14 901.0,468.21C902.3,468.28 903.7,468.34 905.0,468.40C906.3,468.46 907.7,468.52 909.0,468.58C910.3,468.63 911.7,468.69 913.0,468.74C914.3,468.79 915.7,468.84 917.0,468.89C918.3,468.94 919.7,468.99 921.0,469.03C922.3,469.08 923.7,469.12 925.0,469.17C926.3,469.21 927.7,469.25 929.0,469.29C930.3,469.33 931.7,469.37 933.0,469.41C934.3,469.45 935.7,469.49 937.0,469.52C938.3,469.56 939.7,469.60 941.0,469.64C942.3,469.67 943.7,469.71 945.0,469.74C946.3,469.78 947.7,469.82 949.0,469.85C950.3,469.89 951.7,469.93 953.0,469.96C954.3,470.00 955.7,470.04 957.0,470.07C958.3,470.11 959.7,470.15 961.0,470.18C962.3,470.22 963.7,470.26 965.0,470.30C966.3,470.34 967.7,470.37 969.0,470.41C970.3,470.45 971.7,470.49 973.0,470.53C974.3,470.57 975.7,470.61 977.0,470.64C978.3,470.68 979.7,470.72 981.0,470.76C982.3,470.80 983.7,470.84 985.0,470.88C986.3,470.91 987.7,470.95 989.0,470.99C990.3,471.03 991.7,471.07 993.0,471.11C994.3,471.14 995.7,471.18 997.0,471.22C998.3,471.26 999.7,471.30 1001.0,471.33C1002.3,471.37 1003.7,471.41 1005.0,471.44C1006.3,471.48 1007.7,471.52 1009.0,471.55C1010.3,471.59 1011.7,471.62 1013.0,471.66C1014.3,471.69 1015.7,471.73 1017.0,471.76C1018.3,471.80 1019.7,471.83 1021.0,471.86C1022.3,471.90 1023.7,471.93 1025.0,471.96C1026.3,471.99 1027.7,472.02 1029.0,472.06C1030.3,472.09 1031.7,472.12 1033.0,472.15C1034.3,472.18 1035.7,472.20 1037.0,472.23C1038.3,472.26 1039.7,472.29 1041.0,472.32C1042.3,472.34 1043.7,472.37 1045.0,472.39C1046.3,472.42 1047.7,472.44 1049.0,472.47C1050.3,472.49 1051.7,472.51 1053.0,472.53C1054.3,472.56 1055.7,472.58 1057.0,472.60C1058.3,472.62 1059.7,472.64 1061.0,472.66C1062.3,472.68 1063.7,472.71 1065.0,472.73C1066.3,472.75 1067.7,472.77 1069.0,472.79C1070.3,472.82 1071.7,472.84 1073.0,472.86C1074.3,472.89 1075.7,472.91 1077.0,472.94C1078.3,472.97 1079.7,472.99 1081.0,473.02C1082.3,473.05 1083.7,473.08 1085.0,473.11C1086.3,473.15 1087.7,473.18 1089.0,473.22C1090.3,473.25 1091.7,473.29 1093.0,473.33C1094.3,473.37 1095.7,473.41 1097.0,473.46C1098.3,473.51 1099.7,473.55 1101.0,473.60C1102.3,473.66 1103.7,473.71 1105.0,473.77C1106.3,473.82 1107.7,473.89 1109.0,473.95C1110.3,474.01 1111.7,474.08 1113.0,474.15C1114.3,474.22 1115.7,474.30 1117.0,474.38C1118.3,474.46 1119.7,474.54 1121.0,474.63C1122.3,474.72 1123.7,474.81 1125.0,474.90C1126.3,475.00 1127.7,475.10 1129.0,475.21C1130.3,475.31 1131.7,475.42 1133.0,475.54C1134.3,475.65 1135.7,475.77 1137.0,475.89C1138.3,476.01 1139.7,476.13 1141.0,476.26C1142.3,476.39 1143.7,476.52 1145.0,476.65C1146.3,476.79 1147.7,476.93 1149.0,477.07C1150.3,477.21 1151.7,477.35 1153.0,477.50C1154.3,477.64 1155.7,477.79 1157.0,477.95C1158.3,478.10 1159.7,478.25 1161.0,478.41C1162.3,478.56 1163.7,478.72 1165.0,478.88C1166.3,479.05 1167.7,479.21 1169.0,479.37C1170.3,479.54 1171.7,479.70 1173.0,479.87C1174.3,480.04 1175.7,480.21 1177.0,480.38C1178.3,480.55 1179.7,480.73 1181.0,480.90C1182.3,481.07 1183.7,481.25 1185.0,481.42C1186.3,481.60 1187.7,481.78 1189.0,481.95C1190.3,482.13 1191.7,482.31 1193.0,482.49C1194.3,482.66 1195.7,482.84 1197.0,483.02C1198.3,483.20 1199.7,483.38 1201.0,483.56C1202.3,483.74 1203.7,483.92 1205.0,484.10C1206.3,484.27 1207.7,484.45 1209.0,484.63C1210.3,484.81 1211.7,484.99 1213.0,485.16C1214.3,485.34 1215.7,485.51 1217.0,485.69C1218.3,485.86 1219.7,486.04 1221.0,486.21C1222.3,486.38 1223.7,486.55 1225.0,486.72C1226.3,486.90 1227.7,487.06 1229.0,487.23C1230.3,487.40 1231.7,487.56 1233.0,487.73C1234.3,487.89 1235.7,488.05 1237.0,488.21C1238.3,488.37 1239.7,488.53 1241.0,488.68C1242.3,488.84 1243.7,488.99 1245.0,489.14C1246.3,489.29 1247.7,489.43 1249.0,489.58C1250.3,489.72 1251.7,489.86 1253.0,490.00C1254.3,490.14 1255.7,490.27 1257.0,490.40C1258.3,490.53 1259.7,490.65 1261.0,490.78C1262.3,490.90 1263.7,491.01 1265.0,491.13C1266.3,491.24 1267.7,491.35 1269.0,491.45C1270.3,491.55 1271.7,491.65 1273.0,491.74C1274.3,491.84 1275.7,491.93 1277.0,492.01C1278.3,492.09 1279.7,492.16 1281.0,492.23C1282.3,492.30 1283.7,492.37 1285.0,492.43C1286.3,492.48 1287.7,492.53 1289.0,492.58C1290.3,492.62 1291.7,492.66 1293.0,492.69C1294.3,492.72 1295.7,492.74 1297.0,492.76C1298.3,492.77 1299.7,492.78 1301.0,492.78C1302.3,492.78 1303.7,492.77 1305.0,492.76C1306.3,492.74 1307.7,492.72 1309.0,492.69C1310.3,492.65 1311.7,492.61 1313.0,492.56C1314.3,492.51 1315.7,492.45 1317.0,492.39C1318.3,492.32 1319.7,492.24 1321.0,492.16C1322.3,492.07 1323.7,491.98 1325.0,491.88C1326.3,491.78 1327.7,491.66 1329.0,491.54C1330.3,491.42 1331.7,491.30 1333.0,491.16C1334.3,491.02 1335.7,490.87 1337.0,490.72C1338.3,490.56 1339.7,490.39 1341.0,490.22C1342.3,490.05 1343.7,489.86 1345.0,489.67C1346.3,489.48 1347.7,489.27 1349.0,489.06C1350.3,488.85 1351.7,488.63 1353.0,488.40C1354.3,488.17 1355.7,487.93 1357.0,487.68C1358.3,487.43 1359.7,487.17 1361.0,486.90C1362.3,486.64 1363.7,486.37 1365.0,486.09C1366.3,485.81 1367.7,485.52 1369.0,485.23C1370.3,484.95 1371.7,484.65 1373.0,484.35C1374.3,484.06 1375.7,483.76 1377.0,483.46C1378.3,483.16 1379.7,482.85 1381.0,482.55C1382.3,482.24 1383.7,481.94 1385.0,481.64C1386.3,481.34 1387.7,481.03 1389.0,480.74C1390.3,480.44 1391.7,480.14 1393.0,479.85C1394.3,479.55 1395.7,479.27 1397.0,478.98C1398.3,478.70 1399.7,478.42 1401.0,478.15C1402.3,477.88 1403.7,477.62 1405.0,477.36C1406.3,477.10 1407.7,476.86 1409.0,476.62C1410.3,476.38 1411.7,476.15 1413.0,475.92C1414.3,475.70 1415.7,475.49 1417.0,475.28C1418.3,475.07 1419.7,474.87 1421.0,474.67C1422.3,474.48 1423.7,474.29 1425.0,474.11C1426.3,473.93 1427.7,473.75 1429.0,473.58C1430.3,473.41 1431.7,473.25 1433.0,473.08C1434.3,472.92 1435.7,472.77 1437.0,472.61C1438.3,472.46 1439.7,472.31 1441.0,472.17C1442.3,472.02 1443.7,471.88 1445.0,471.74C1446.3,471.60 1447.7,471.47 1449.0,471.33C1450.3,471.20 1451.7,471.07 1453.0,470.94C1454.3,470.80 1455.7,470.68 1457.0,470.55C1458.3,470.42 1459.7,470.29 1461.0,470.16C1462.3,470.04 1463.7,469.91 1465.0,469.78C1466.3,469.65 1467.7,469.52 1469.0,469.39C1470.3,469.27 1471.7,469.13 1473.0,469.00C1474.3,468.87 1475.7,468.74 1477.0,468.60C1478.3,468.46 1479.7,468.32 1481.0,468.18C1482.3,468.04 1483.7,467.90 1485.0,467.75C1486.3,467.60 1487.7,467.45 1489.0,467.29C1490.3,467.13 1491.7,466.97 1493.0,466.81C1494.3,466.64 1495.7,466.47 1497.0,466.30C1498.3,466.12 1499.7,465.94 1501.0,465.75C1502.3,465.56 1503.7,465.37 1505.0,465.17C1506.3,464.97 1507.7,464.76 1509.0,464.55C1510.3,464.33 1511.7,464.11 1513.0,463.88C1514.3,463.65 1515.7,463.41 1517.0,463.16C1518.3,462.92 1519.7,462.66 1521.0,462.40C1522.3,462.13 1523.7,461.86 1525.0,461.57C1526.3,461.29 1527.7,460.99 1529.0,460.69C1530.3,460.39 1531.7,460.07 1533.0,459.75C1534.3,459.43 1535.7,459.10 1537.0,458.75C1538.3,458.41 1539.7,458.06 1541.0,457.70C1542.3,457.34 1543.7,456.97 1545.0,456.59C1546.3,456.22 1547.7,455.83 1549.0,455.43C1550.3,455.03 1551.7,454.63 1553.0,454.21C1554.3,453.80 1555.7,453.37 1557.0,452.94C1558.3,452.51 1559.7,452.07 1561.0,451.62C1562.3,451.17 1563.7,450.71 1565.0,450.24C1566.3,449.77 1567.7,449.30 1569.0,448.81C1570.3,448.32 1571.7,447.82 1573.0,447.31C1574.3,446.80 1575.7,446.27 1577.0,445.73C1578.3,445.19 1579.7,444.64 1581.0,444.07C1582.3,443.49 1583.7,442.90 1585.0,442.29C1586.3,441.68 1587.7,441.05 1589.0,440.40C1590.3,439.75 1591.7,439.08 1593.0,438.38C1594.3,437.68 1595.7,436.96 1597.0,436.21C1598.3,435.46 1599.7,434.69 1601.0,433.88C1602.3,433.08 1603.7,432.25 1605.0,431.39C1606.3,430.52 1607.7,429.63 1609.0,428.72C1610.3,427.80 1611.7,426.86 1613.0,425.90C1614.3,424.93 1615.7,423.94 1617.0,422.93C1618.3,421.92 1619.7,420.88 1621.0,419.83C1622.3,418.78 1623.7,417.71 1625.0,416.62C1626.3,415.53 1627.7,414.42 1629.0,413.29C1630.3,412.17 1631.7,411.03 1633.0,409.88C1634.3,408.73 1635.7,407.56 1637.0,406.39C1638.3,405.21 1639.7,404.02 1641.0,402.83C1642.3,401.63 1643.7,400.43 1645.0,399.21C1646.3,398.00 1647.7,396.78 1649.0,395.56C1650.3,394.33 1651.7,393.11 1653.0,391.87C1654.3,390.64 1655.7,389.41 1657.0,388.18C1658.3,386.95 1659.7,385.72 1661.0,384.51C1662.3,383.29 1663.7,382.08 1665.0,380.89C1666.3,379.69 1667.7,378.51 1669.0,377.35C1670.3,376.19 1671.7,375.06 1673.0,373.94C1674.3,372.83 1675.7,371.74 1677.0,370.69C1678.3,369.63 1679.7,368.61 1681.0,367.63C1682.3,366.64 1683.7,365.69 1685.0,364.79C1686.3,363.88 1687.7,363.02 1689.0,362.21C1690.3,361.39 1691.7,360.63 1693.0,359.92C1694.3,359.21 1695.7,358.55 1697.0,357.95C1698.3,357.36 1699.7,356.82 1701.0,356.35C1702.3,355.88 1703.7,355.48 1705.0,355.15C1706.3,354.81 1707.7,354.54 1709.0,354.34C1710.3,354.13 1711.7,353.99 1713.0,353.91C1714.3,353.83 1715.7,353.80 1717.0,353.84C1718.3,353.88 1719.7,353.97 1721.0,354.12C1722.3,354.26 1723.7,354.47 1725.0,354.72C1726.3,354.97 1727.7,355.27 1729.0,355.62C1730.3,355.97 1731.7,356.37 1733.0,356.82C1734.3,357.26 1735.7,357.75 1737.0,358.28C1738.3,358.81 1739.7,359.38 1741.0,359.99C1742.3,360.59 1743.7,361.24 1745.0,361.92C1746.3,362.61 1747.7,363.33 1749.0,364.08C1750.3,364.83 1751.7,365.61 1753.0,366.42C1754.3,367.23 1755.7,368.07 1757.0,368.93C1758.3,369.78 1759.7,370.66 1761.0,371.54C1762.3,372.43 1763.7,373.32 1765.0,374.21C1766.3,375.10 1767.7,375.99 1769.0,376.87C1770.3,377.75 1771.7,378.62 1773.0,379.47C1774.3,380.31 1775.7,381.14 1777.0,381.93C1778.3,382.73 1779.7,383.49 1781.0,384.22C1782.3,384.95 1783.7,385.65 1785.0,386.31C1786.3,386.97 1787.7,387.60 1789.0,388.19C1790.3,388.77 1791.7,389.33 1793.0,389.84C1794.3,390.36 1795.7,390.84 1797.0,391.27C1798.3,391.71 1799.7,392.11 1801.0,392.47C1802.3,392.82 1803.7,393.14 1805.0,393.42C1806.3,393.69 1807.7,393.93 1809.0,394.14C1810.3,394.35 1811.7,394.53 1813.0,394.69C1814.3,394.84 1815.7,394.97 1817.0,395.09C1818.3,395.20 1819.7,395.30 1821.0,395.39C1822.3,395.48 1823.7,395.56 1825.0,395.63C1826.3,395.71 1827.7,395.78 1829.0,395.86C1830.3,395.94 1831.7,396.02 1833.0,396.11C1834.3,396.21 1835.7,396.31 1837.0,396.43C1838.3,396.55 1839.7,396.69 1841.0,396.86C1842.3,397.02 1843.7,397.21 1845.0,397.43C1846.3,397.65 1847.7,397.91 1849.0,398.20C1850.3,398.49 1851.7,398.82 1853.0,399.20C1854.3,399.57 1855.7,399.99 1857.0,400.44C1858.3,400.88 1859.7,401.35 1861.0,401.82C1862.3,402.30 1863.7,402.78 1865.0,403.24C1866.3,403.71 1867.7,404.16 1869.0,404.58C1870.3,405.00 1871.7,405.38 1873.0,405.71C1874.3,406.05 1875.7,406.33 1877.0,406.54C1878.3,406.75 1879.7,406.88 1881.0,406.96C1882.3,407.05 1883.7,407.08 1885.0,407.12C1886.3,407.15 1887.7,407.17 1889.0,407.23C1890.3,407.28 1891.7,407.37 1893.0,407.53C1894.3,407.68 1895.7,407.90 1897.0,408.22C1898.3,408.53 1899.7,408.93 1901.0,409.45C1902.3,409.96 1903.7,410.59 1905.0,411.34C1906.3,412.10 1907.7,412.98 1909.0,414.02C1910.3,415.06 1911.7,416.26 1913.0,417.58C1914.3,418.90 1915.7,420.34 1917.0,421.87C1918.3,423.40 1919.7,425.01 1921.0,426.67C1922.3,428.33 1923.7,430.04 1925.0,431.75C1926.3,433.47 1927.7,435.19 1929.0,436.88C1930.3,438.57 1931.7,440.23 1933.0,441.88C1934.3,443.52 1935.7,445.14 1937.0,446.75C1938.3,448.37 1939.7,449.97 1941.0,451.56C1942.3,453.16 1943.7,454.76 1945.0,456.36C1946.3,457.96 1947.7,459.57 1949.0,461.20C1950.3,462.82 1951.7,464.46 1953.0,466.09C1954.3,467.73 1955.7,469.37 1957.0,470.99C1958.3,472.62 1959.7,474.24 1961.0,475.83C1962.3,477.43 1963.7,479.00 1965.0,480.54C1966.3,482.08 1967.7,483.59 1969.0,485.06C1970.3,486.52 1971.7,487.93 1973.0,489.25C1974.3,490.58 1975.7,491.82 1977.0,492.94C1978.3,494.06 1979.7,495.06 1981.0,495.90C1982.3,496.75 1983.7,497.44 1985.0,497.95C1986.3,498.45 1987.7,498.77 1989.0,498.87C1990.3,498.97 1991.7,498.83 1993.0,498.48C1994.3,498.13 1995.7,497.56 1997.0,496.80C1998.3,496.05 1999.7,495.10 2001.0,494.01C2002.3,492.91 2003.7,491.67 2005.0,490.29C2006.3,488.92 2007.7,487.44 2009.0,485.78C2010.3,484.12 2011.7,482.27 2013.0,480.14C2014.3,478.01 2015.7,475.56 2017.0,472.83C2018.3,470.10 2019.7,467.18 2021.0,464.47C2022.3,461.76 2023.7,459.35 2025.0,457.10C2026.3,454.85 2027.7,452.72 2029.0,450.51C2030.3,448.29 2031.7,445.88 2033.0,443.74C2034.3,441.60 2035.7,439.79 2037.0,438.31C2038.3,436.83 2039.7,435.69 2041.0,434.87C2042.3,434.05 2043.7,433.54 2045.0,433.40C2046.3,433.25 2047.7,433.45 2049.0,434.06C2050.3,434.66 2051.7,435.66 2053.0,436.94C2054.3,438.21 2055.7,439.76 2057.0,441.47C2058.3,443.18 2059.7,444.99 2061.0,447.16C2062.3,449.33 2063.7,451.95 2065.0,454.76C2066.3,457.56 2067.7,460.50 2069.0,463.14C2070.3,465.78 2071.7,468.15 2073.0,470.37C2074.3,472.59 2075.7,474.66 2077.0,476.73C2078.3,478.79 2079.7,480.91 2081.0,482.93C2082.3,484.96 2083.7,486.86 2085.0,488.40C2086.3,489.94 2087.7,491.13 2089.0,491.96C2090.3,492.79 2091.7,493.25 2093.0,493.35C2094.3,493.45 2095.7,493.18 2097.0,492.71C2098.3,492.23 2099.7,491.55 2101.0,490.82C2102.3,490.09 2103.7,489.32 2105.0,488.65C2106.3,487.98 2107.7,487.43 2109.0,487.03C2110.3,486.63 2111.7,486.37 2113.0,486.27C2114.3,486.16 2115.7,486.20 2117.0,486.41C2118.3,486.62 2119.7,486.98 2121.0,487.52C2122.3,488.06 2123.7,488.78 2125.0,489.66C2126.3,490.53 2127.7,491.55 2129.0,492.68C2130.3,493.81 2131.7,495.04 2133.0,496.33C2134.3,497.62 2135.7,498.99 2137.0,500.34C2138.3,501.68 2139.7,502.99 2141.0,504.12C2142.3,505.24 2143.7,506.16 2145.0,506.86C2146.3,507.56 2147.7,508.04 2149.0,508.30C2150.3,508.57 2151.7,508.61 2153.0,508.42C2154.3,508.24 2155.7,507.82 2157.0,507.17C2158.3,506.52 2159.7,505.62 2161.0,504.46C2162.3,503.31 2163.7,501.87 2165.0,500.24C2166.3,498.60 2167.7,496.78 2169.0,494.91C2170.3,493.03 2171.7,491.11 2173.0,489.19C2174.3,487.27 2175.7,485.34 2177.0,483.38C2178.3,481.42 2179.7,479.44 2181.0,477.43C2182.3,475.41 2183.7,473.36 2185.0,471.27C2186.3,469.17 2187.7,467.02 2189.0,464.84C2190.3,462.66 2191.7,460.47 2193.0,458.41C2194.3,456.34 2195.7,454.40 2197.0,452.72C2198.3,451.04 2199.7,449.62 2201.0,448.61C2202.3,447.61 2203.7,447.00 2205.0,446.95C2206.3,446.90 2207.7,447.41 2209.0,448.53C2210.3,449.66 2211.7,451.40 2213.0,453.85C2214.3,456.29 2215.7,459.50 2217.0,463.28C2218.3,467.06 2219.7,471.32 2221.0,475.67C2222.3,480.02 2223.7,484.56 2225.0,489.51C2226.3,494.45 2227.7,499.82 2229.0,505.37C2230.3,510.92 2231.7,516.64 2233.0,522.28C2234.3,527.92 2235.7,533.32 2237.0,538.84C2238.3,544.35 2239.7,550.33 2241.0,557.49C2242.3,564.65 2243.7,572.23 2245.0,577.58C2246.3,582.92 2247.7,586.66 2249.0,590.23C2250.3,593.80 2251.7,597.25 2253.0,600.38C2254.3,603.51 2255.7,606.30 2257.0,608.68C2258.3,611.07 2259.7,613.05 2261.0,614.60C2262.3,616.14 2263.7,617.24 2265.0,617.88C2266.3,618.51 2267.7,618.69 2269.0,618.47C2270.3,618.25 2271.7,617.64 2273.0,616.69C2274.3,615.73 2275.7,614.43 2277.0,612.88C2278.3,611.33 2279.7,609.54 2281.0,607.68C2282.3,605.83 2283.7,603.90 2285.0,602.08C2286.3,600.25 2287.7,598.53 2289.0,597.07C2290.3,595.61 2291.7,594.42 2293.0,593.68C2294.3,592.94 2295.7,592.65 2297.0,592.96C2298.3,593.27 2299.7,594.15 2301.0,595.52C2302.3,596.90 2303.7,598.78 2305.0,601.09C2306.3,603.40 2307.7,606.11 2309.0,609.04C2310.3,611.97 2311.7,615.12 2313.0,618.29C2314.3,621.46 2315.7,624.65 2317.0,627.68C2318.3,630.70 2319.7,633.56 2321.0,636.07C2322.3,638.58 2323.7,640.77 2325.0,642.63C2326.3,644.50 2327.7,646.04 2329.0,647.24C2330.3,648.45 2331.7,649.33 2333.0,649.87C2333.5,650.07 2334.0,650.22 2334.5,650.33C2335.0,650.45 2335.5,650.52 2336.0,650.55C2336.5,650.59 2337.0,650.59 2337.5,650.56C2338.0,650.53 2338.5,650.48 2339.0,650.40C2339.5,650.32 2340.0,650.23 2340.5,650.12C2341.0,650.01 2341.5,649.88 2342.0,649.75C2342.5,649.62 2343.0,649.49 2343.5,649.35C2344.0,649.21 2344.5,649.08 2345.0,648.95C2345.5,648.82 2346.0,648.70 2346.5,648.59C2347.0,648.48 2347.5,648.39 2348.0,648.32C2348.5,648.25 2349.0,648.20 2349.5,648.18C2350.0,648.16 2350.5,648.17 2351.0,648.21C2351.5,648.25 2352.0,648.33 2352.5,648.45C2353.0,648.58 2353.5,648.74 2354.0,648.95C2354.3,649.10 2354.7,649.26 2355.0,649.45" stroke="#ff0022" mask="url(#fade)"/>
</g>
<g fill="#fff" fill-opacity="0.9"><rect x="126" y="762" width="264" height="63"/><rect x="126" y="828" width="499" height="63"/><rect x="126" y="894" width="430" height="63"/></g>
<g class="s" font-size="51.5" stroke-width="0.9">
<text x="128.5" y="810.5" fill="#959fa4" stroke="#959fa4" textLength="266" lengthAdjust="spacingAndGlyphs">JM-1 Target</text>
<text x="128.5" y="876.5" fill="#00aa00" stroke="#00aa00" textLength="548" lengthAdjust="spacingAndGlyphs">CrinEar Daybreak (AVG)</text>
<text x="129" y="942.5" fill="#ff0022" stroke="#ff0022" textLength="469" lengthAdjust="spacingAndGlyphs">Kiwi Ears KE4 (AVG)</text>
</g>
</svg></body></html>
